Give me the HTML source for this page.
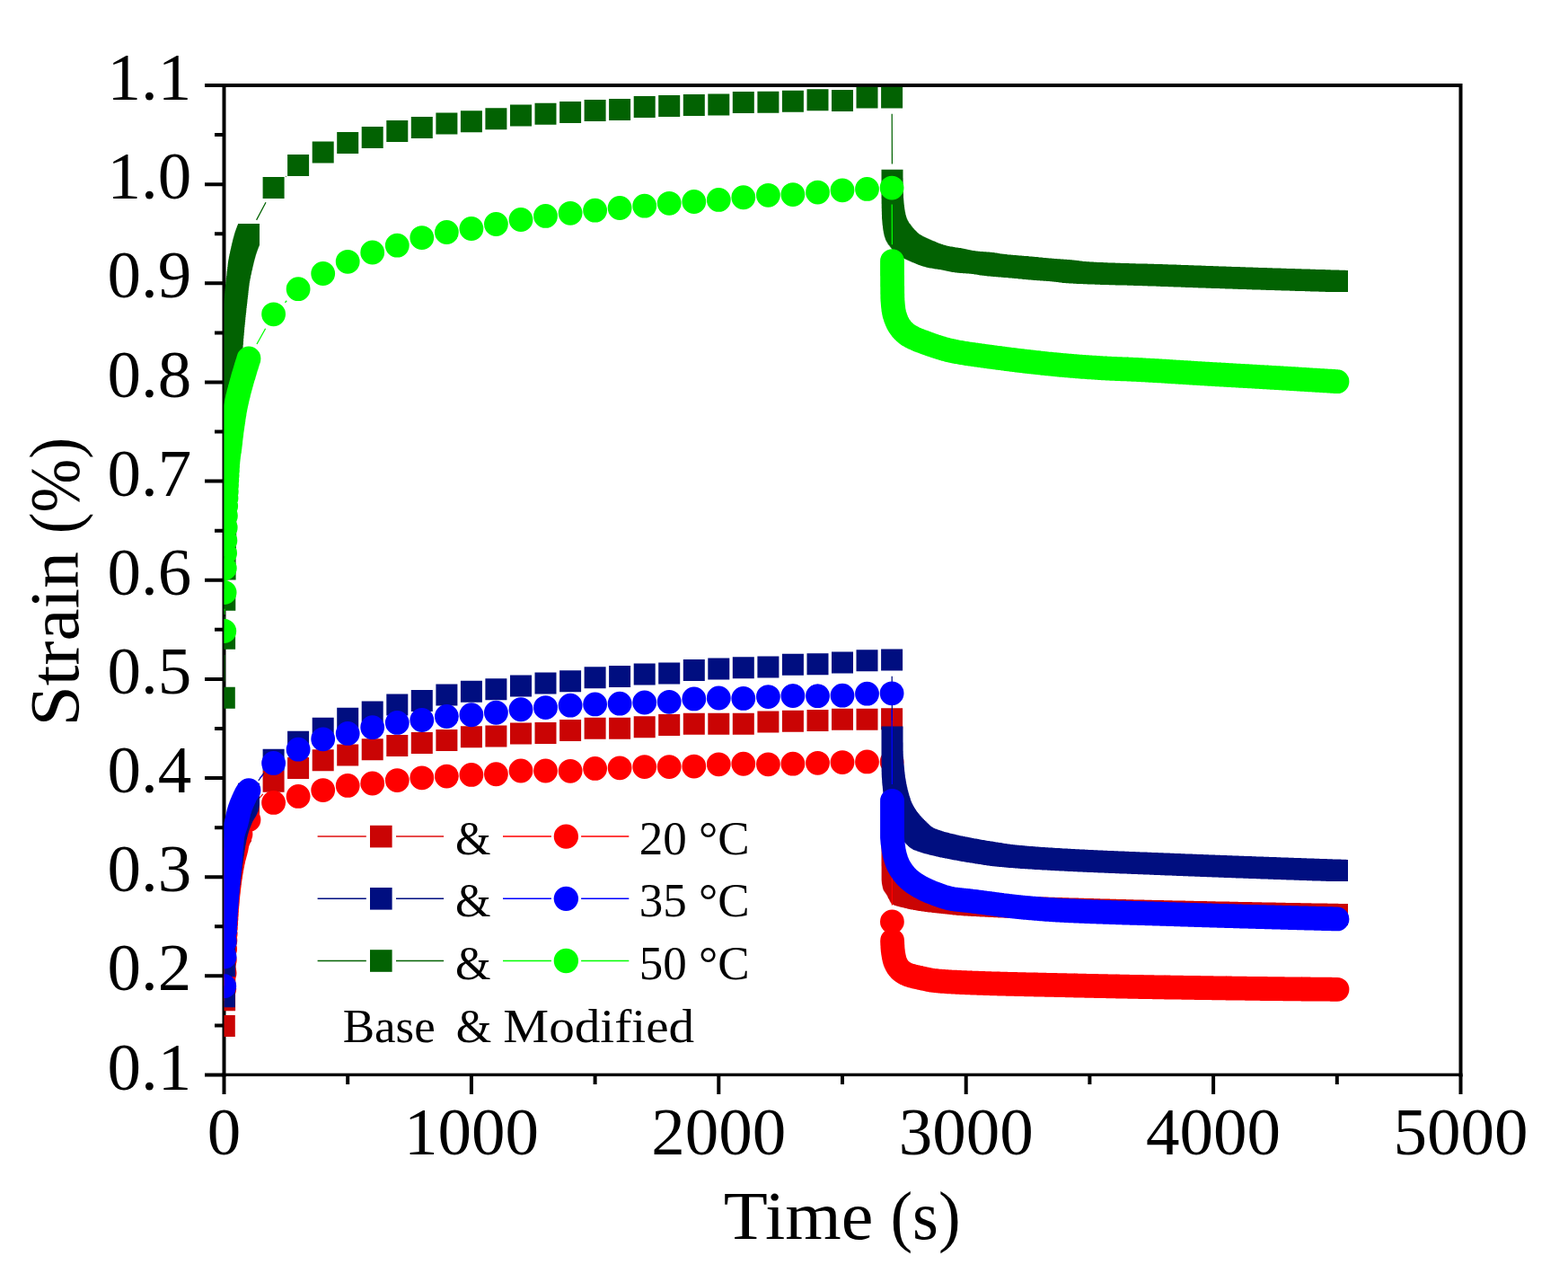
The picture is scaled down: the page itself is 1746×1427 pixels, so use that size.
<!DOCTYPE html>
<html><head><meta charset="utf-8"><title>Strain vs Time</title>
<style>html,body{margin:0;padding:0;background:#fff;}svg{display:block;}</style>
</head><body>
<svg width="1746" height="1427" viewBox="0 0 1746 1427">
<defs><clipPath id="pa"><rect x="249.5" y="96.5" width="1377.0" height="1100.0"/></clipPath></defs>
<rect width="1746" height="1427" fill="#fff"/>
<path d="M249.5 1196.5V95.0H1626.5V1196.5" fill="none" stroke="#000" stroke-width="4" stroke-linecap="square"/>
<rect x="247.5" y="1194.65" width="1381.0" height="3.4" fill="#000"/>
<path d="M228 1196.50H249.5M228 1086.35H249.5M228 976.20H249.5M228 866.05H249.5M228 755.90H249.5M228 645.75H249.5M228 535.60H249.5M228 425.45H249.5M228 315.30H249.5M228 205.15H249.5M228 95.00H249.5M239 1141.43H249.5M239 1031.28H249.5M239 921.13H249.5M239 810.98H249.5M239 700.83H249.5M239 590.68H249.5M239 480.52H249.5M239 370.38H249.5M239 260.23H249.5M239 150.08H249.5M249.50 1196.5V1218M524.90 1196.5V1218M800.30 1196.5V1218M1075.70 1196.5V1218M1351.10 1196.5V1218M1626.50 1196.5V1218M387.20 1196.5V1207M662.60 1196.5V1207M938.00 1196.5V1207M1213.40 1196.5V1207M1488.80 1196.5V1207" fill="none" stroke="#000" stroke-width="4"/>
<g clip-path="url(#pa)">
<path d="M288.8 888.4L292.8 883.8M993.2 818.5L993.4 890.7" fill="none" stroke="#e01010" stroke-width="1.25"/>
<path d="M237.8 1130.1h24v24h-24zM238.1 1101.3h24v24h-24zM238.3 1076.4h24v24h-24zM238.6 1057.8h24v24h-24zM238.9 1045.0h24v24h-24zM239.2 1035.0h24v24h-24zM239.4 1026.6h24v24h-24zM239.7 1019.3h24v24h-24zM240.0 1012.8h24v24h-24zM240.3 1007.0h24v24h-24zM240.5 1001.8h24v24h-24zM240.8 997.1h24v24h-24zM241.1 992.8h24v24h-24zM241.4 988.8h24v24h-24zM241.6 985.1h24v24h-24zM241.9 981.7h24v24h-24zM242.2 978.6h24v24h-24zM242.5 975.6h24v24h-24zM242.7 972.8h24v24h-24zM243.0 970.2h24v24h-24zM243.3 967.7h24v24h-24zM243.6 965.3h24v24h-24zM243.8 963.0h24v24h-24zM244.1 960.8h24v24h-24zM244.4 958.7h24v24h-24zM244.7 956.7h24v24h-24zM244.9 954.7h24v24h-24zM245.2 952.8h24v24h-24zM245.5 951.0h24v24h-24zM245.8 949.2h24v24h-24zM246.0 947.5h24v24h-24zM246.3 945.9h24v24h-24zM246.6 944.3h24v24h-24zM246.9 942.7h24v24h-24zM247.1 941.2h24v24h-24zM247.4 939.8h24v24h-24zM247.7 938.4h24v24h-24zM248.0 937.0h24v24h-24zM248.2 935.7h24v24h-24zM248.5 934.5h24v24h-24zM248.8 933.2h24v24h-24zM249.1 932.0h24v24h-24zM249.3 930.8h24v24h-24zM249.6 929.6h24v24h-24zM249.9 928.4h24v24h-24zM250.2 927.3h24v24h-24zM250.4 926.2h24v24h-24zM250.7 925.2h24v24h-24zM251.0 924.2h24v24h-24zM251.3 923.2h24v24h-24zM251.5 922.3h24v24h-24zM251.8 921.4h24v24h-24zM252.1 920.6h24v24h-24zM252.4 919.8h24v24h-24zM252.6 919.0h24v24h-24zM252.9 918.3h24v24h-24zM253.2 917.7h24v24h-24zM253.5 917.0h24v24h-24zM253.7 916.4h24v24h-24zM254.0 915.9h24v24h-24zM254.3 915.3h24v24h-24zM254.6 914.8h24v24h-24zM254.9 914.3h24v24h-24zM255.1 913.8h24v24h-24zM255.4 913.3h24v24h-24zM255.7 912.9h24v24h-24zM256.0 912.4h24v24h-24zM265.0 890.4h24v24h-24zM292.6 857.8h24v24h-24zM320.1 843.1h24v24h-24zM347.7 834.2h24v24h-24zM375.2 828.5h24v24h-24zM402.7 822.2h24v24h-24zM430.3 818.0h24v24h-24zM457.8 814.9h24v24h-24zM485.4 811.9h24v24h-24zM512.9 808.3h24v24h-24zM540.4 807.5h24v24h-24zM568.0 804.4h24v24h-24zM595.5 803.9h24v24h-24zM623.1 801.0h24v24h-24zM650.6 798.8h24v24h-24zM678.1 798.8h24v24h-24zM705.7 797.2h24v24h-24zM733.2 794.9h24v24h-24zM760.8 793.8h24v24h-24zM788.3 793.8h24v24h-24zM815.8 793.8h24v24h-24zM843.4 791.5h24v24h-24zM870.9 790.8h24v24h-24zM898.5 789.9h24v24h-24zM926.0 788.7h24v24h-24zM953.5 788.7h24v24h-24zM981.1 788.2h24v24h-24zM981.5 897.0h24v24h-24zM981.5 898.2h24v24h-24zM981.5 899.4h24v24h-24zM981.5 900.6h24v24h-24zM981.5 901.8h24v24h-24zM981.5 903.0h24v24h-24zM981.5 904.3h24v24h-24zM981.5 905.5h24v24h-24zM981.5 906.7h24v24h-24zM981.5 907.9h24v24h-24zM981.5 909.1h24v24h-24zM981.5 910.3h24v24h-24zM981.5 911.5h24v24h-24zM981.5 912.7h24v24h-24zM981.5 913.9h24v24h-24zM981.5 915.1h24v24h-24zM981.5 916.3h24v24h-24zM981.5 917.5h24v24h-24zM981.5 918.7h24v24h-24zM981.5 919.9h24v24h-24zM981.5 921.1h24v24h-24zM981.5 922.3h24v24h-24zM981.5 923.5h24v24h-24zM981.5 924.7h24v24h-24zM981.5 925.9h24v24h-24zM981.5 927.1h24v24h-24zM981.5 928.3h24v24h-24zM981.5 929.5h24v24h-24zM981.5 930.7h24v24h-24zM981.5 931.9h24v24h-24zM981.5 933.1h24v24h-24zM981.5 934.3h24v24h-24zM981.5 935.5h24v24h-24zM981.5 936.7h24v24h-24zM981.5 937.9h24v24h-24zM981.5 939.1h24v24h-24zM981.5 940.3h24v24h-24zM981.6 941.5h24v24h-24zM981.6 942.7h24v24h-24zM981.6 943.9h24v24h-24zM981.6 945.1h24v24h-24zM981.6 946.2h24v24h-24zM981.6 947.4h24v24h-24zM981.6 948.6h24v24h-24zM981.6 949.8h24v24h-24zM981.6 951.0h24v24h-24zM981.6 952.2h24v24h-24zM981.6 953.4h24v24h-24zM981.6 954.6h24v24h-24zM981.6 955.8h24v24h-24zM981.7 957.0h24v24h-24zM981.8 958.2h24v24h-24zM981.9 959.4h24v24h-24zM982.1 960.6h24v24h-24zM982.3 961.8h24v24h-24zM982.6 963.0h24v24h-24zM982.8 964.2h24v24h-24zM983.1 965.3h24v24h-24zM983.4 966.4h24v24h-24zM983.9 967.4h24v24h-24zM984.5 968.5h24v24h-24zM985.2 969.5h24v24h-24zM985.9 970.5h24v24h-24zM986.6 971.6h24v24h-24zM987.2 972.6h24v24h-24zM987.9 973.6h24v24h-24zM988.4 974.7h24v24h-24zM989.0 975.9h24v24h-24zM989.6 977.1h24v24h-24zM990.2 978.3h24v24h-24zM990.8 979.4h24v24h-24zM991.4 980.4h24v24h-24zM992.1 981.4h24v24h-24zM992.8 982.1h24v24h-24zM993.6 982.8h24v24h-24zM994.5 983.3h24v24h-24zM995.5 983.7h24v24h-24zM996.5 984.1h24v24h-24zM997.7 984.5h24v24h-24zM998.9 984.8h24v24h-24zM1000.1 985.1h24v24h-24zM1001.4 985.4h24v24h-24zM1002.6 985.7h24v24h-24zM1003.9 986.0h24v24h-24zM1005.1 986.3h24v24h-24zM1006.2 986.6h24v24h-24zM1007.4 986.9h24v24h-24zM1008.6 987.1h24v24h-24zM1009.7 987.4h24v24h-24zM1010.9 987.7h24v24h-24zM1012.1 987.9h24v24h-24zM1013.3 988.2h24v24h-24zM1014.4 988.4h24v24h-24zM1015.6 988.6h24v24h-24zM1016.8 988.9h24v24h-24zM1018.0 989.1h24v24h-24zM1019.2 989.3h24v24h-24zM1020.3 989.5h24v24h-24zM1021.5 989.7h24v24h-24zM1022.7 989.9h24v24h-24zM1023.9 990.1h24v24h-24zM1025.1 990.3h24v24h-24zM1026.3 990.4h24v24h-24zM1027.5 990.6h24v24h-24zM1028.6 990.7h24v24h-24zM1029.8 990.9h24v24h-24zM1031.0 991.1h24v24h-24zM1032.2 991.2h24v24h-24zM1033.4 991.4h24v24h-24zM1034.6 991.5h24v24h-24zM1035.8 991.6h24v24h-24zM1037.0 991.8h24v24h-24zM1038.2 991.9h24v24h-24zM1039.4 992.0h24v24h-24zM1040.6 992.2h24v24h-24zM1041.8 992.3h24v24h-24zM1042.9 992.4h24v24h-24zM1044.1 992.6h24v24h-24zM1045.3 992.7h24v24h-24zM1046.5 992.8h24v24h-24zM1047.7 992.9h24v24h-24zM1048.9 993.1h24v24h-24zM1050.1 993.2h24v24h-24zM1051.3 993.3h24v24h-24zM1052.5 993.4h24v24h-24zM1053.7 993.6h24v24h-24zM1054.9 993.7h24v24h-24zM1056.1 993.8h24v24h-24zM1057.3 994.0h24v24h-24zM1058.5 994.1h24v24h-24zM1059.7 994.2h24v24h-24zM1060.9 994.4h24v24h-24zM1062.0 994.5h24v24h-24zM1063.2 994.6h24v24h-24zM1064.4 994.7h24v24h-24zM1065.6 994.9h24v24h-24zM1066.8 995.0h24v24h-24zM1068.0 995.1h24v24h-24zM1069.2 995.1h24v24h-24zM1070.4 995.2h24v24h-24zM1071.6 995.3h24v24h-24zM1072.8 995.4h24v24h-24zM1074.0 995.4h24v24h-24zM1075.2 995.5h24v24h-24zM1076.4 995.6h24v24h-24zM1077.6 995.7h24v24h-24zM1078.8 995.7h24v24h-24zM1080.0 995.8h24v24h-24zM1081.2 995.9h24v24h-24zM1082.4 995.9h24v24h-24zM1083.6 996.0h24v24h-24zM1084.8 996.1h24v24h-24zM1086.0 996.1h24v24h-24zM1087.2 996.2h24v24h-24zM1088.4 996.3h24v24h-24zM1089.6 996.3h24v24h-24zM1090.8 996.4h24v24h-24zM1092.0 996.5h24v24h-24zM1093.1 996.5h24v24h-24zM1094.3 996.6h24v24h-24zM1095.5 996.6h24v24h-24zM1096.7 996.7h24v24h-24zM1097.9 996.8h24v24h-24zM1099.1 996.8h24v24h-24zM1100.3 996.9h24v24h-24zM1101.5 996.9h24v24h-24zM1102.7 997.0h24v24h-24zM1103.9 997.0h24v24h-24zM1105.1 997.1h24v24h-24zM1106.3 997.2h24v24h-24zM1107.5 997.2h24v24h-24zM1108.7 997.3h24v24h-24zM1109.9 997.3h24v24h-24zM1111.1 997.4h24v24h-24zM1112.3 997.4h24v24h-24zM1113.5 997.5h24v24h-24zM1114.7 997.5h24v24h-24zM1115.9 997.6h24v24h-24zM1117.1 997.6h24v24h-24zM1118.3 997.7h24v24h-24zM1119.5 997.7h24v24h-24zM1120.7 997.8h24v24h-24zM1121.9 997.8h24v24h-24zM1123.1 997.9h24v24h-24zM1124.3 997.9h24v24h-24zM1125.5 998.0h24v24h-24zM1126.7 998.0h24v24h-24zM1127.9 998.1h24v24h-24zM1129.1 998.1h24v24h-24zM1130.3 998.1h24v24h-24zM1131.5 998.2h24v24h-24zM1132.7 998.2h24v24h-24zM1133.9 998.3h24v24h-24zM1135.1 998.3h24v24h-24zM1136.3 998.4h24v24h-24zM1137.5 998.4h24v24h-24zM1138.7 998.4h24v24h-24zM1139.9 998.5h24v24h-24zM1141.1 998.5h24v24h-24zM1142.3 998.6h24v24h-24zM1143.5 998.6h24v24h-24zM1144.7 998.7h24v24h-24zM1145.9 998.7h24v24h-24zM1147.1 998.7h24v24h-24zM1148.3 998.8h24v24h-24zM1149.5 998.8h24v24h-24zM1150.7 998.8h24v24h-24zM1151.9 998.9h24v24h-24zM1153.1 998.9h24v24h-24zM1154.3 999.0h24v24h-24zM1155.5 999.0h24v24h-24zM1156.7 999.0h24v24h-24zM1157.9 999.1h24v24h-24zM1159.1 999.1h24v24h-24zM1160.3 999.2h24v24h-24zM1161.5 999.2h24v24h-24zM1162.7 999.2h24v24h-24zM1163.9 999.3h24v24h-24zM1165.1 999.3h24v24h-24zM1166.3 999.3h24v24h-24zM1167.5 999.4h24v24h-24zM1168.7 999.4h24v24h-24zM1169.9 999.4h24v24h-24zM1171.1 999.5h24v24h-24zM1172.3 999.5h24v24h-24zM1173.5 999.5h24v24h-24zM1174.7 999.6h24v24h-24zM1175.9 999.6h24v24h-24zM1177.1 999.6h24v24h-24zM1178.3 999.7h24v24h-24zM1179.5 999.7h24v24h-24zM1180.7 999.8h24v24h-24zM1181.9 999.8h24v24h-24zM1183.1 999.8h24v24h-24zM1184.3 999.9h24v24h-24zM1185.5 999.9h24v24h-24zM1186.7 999.9h24v24h-24zM1187.9 1000.0h24v24h-24zM1189.1 1000.0h24v24h-24zM1190.3 1000.0h24v24h-24zM1191.5 1000.1h24v24h-24zM1192.7 1000.1h24v24h-24zM1193.9 1000.1h24v24h-24zM1195.1 1000.2h24v24h-24zM1196.3 1000.2h24v24h-24zM1197.5 1000.2h24v24h-24zM1198.7 1000.3h24v24h-24zM1199.9 1000.3h24v24h-24zM1201.1 1000.3h24v24h-24zM1202.3 1000.4h24v24h-24zM1203.5 1000.4h24v24h-24zM1204.7 1000.4h24v24h-24zM1205.9 1000.5h24v24h-24zM1207.1 1000.5h24v24h-24zM1208.3 1000.5h24v24h-24zM1209.5 1000.6h24v24h-24zM1210.7 1000.6h24v24h-24zM1211.9 1000.6h24v24h-24zM1213.1 1000.7h24v24h-24zM1214.3 1000.7h24v24h-24zM1215.5 1000.7h24v24h-24zM1216.7 1000.8h24v24h-24zM1217.9 1000.8h24v24h-24zM1219.1 1000.8h24v24h-24zM1220.3 1000.9h24v24h-24zM1221.5 1000.9h24v24h-24zM1222.7 1000.9h24v24h-24zM1223.9 1001.0h24v24h-24zM1225.1 1001.0h24v24h-24zM1226.3 1001.0h24v24h-24zM1227.5 1001.1h24v24h-24zM1228.7 1001.1h24v24h-24zM1229.9 1001.1h24v24h-24zM1231.1 1001.2h24v24h-24zM1232.3 1001.2h24v24h-24zM1233.5 1001.2h24v24h-24zM1234.7 1001.2h24v24h-24zM1235.9 1001.3h24v24h-24zM1237.1 1001.3h24v24h-24zM1238.3 1001.3h24v24h-24zM1239.5 1001.4h24v24h-24zM1240.7 1001.4h24v24h-24zM1241.9 1001.4h24v24h-24zM1243.1 1001.5h24v24h-24zM1244.3 1001.5h24v24h-24zM1245.5 1001.5h24v24h-24zM1246.7 1001.5h24v24h-24zM1247.9 1001.6h24v24h-24zM1249.1 1001.6h24v24h-24zM1250.3 1001.6h24v24h-24zM1251.5 1001.7h24v24h-24zM1252.7 1001.7h24v24h-24zM1253.9 1001.7h24v24h-24zM1255.1 1001.7h24v24h-24zM1256.3 1001.8h24v24h-24zM1257.5 1001.8h24v24h-24zM1258.7 1001.8h24v24h-24zM1259.9 1001.9h24v24h-24zM1261.1 1001.9h24v24h-24zM1262.3 1001.9h24v24h-24zM1263.5 1001.9h24v24h-24zM1264.7 1002.0h24v24h-24zM1265.9 1002.0h24v24h-24zM1267.1 1002.0h24v24h-24zM1268.3 1002.0h24v24h-24zM1269.5 1002.1h24v24h-24zM1270.7 1002.1h24v24h-24zM1271.9 1002.1h24v24h-24zM1273.1 1002.2h24v24h-24zM1274.3 1002.2h24v24h-24zM1275.5 1002.2h24v24h-24zM1276.7 1002.2h24v24h-24zM1277.9 1002.3h24v24h-24zM1279.1 1002.3h24v24h-24zM1280.3 1002.3h24v24h-24zM1281.5 1002.3h24v24h-24zM1282.7 1002.4h24v24h-24zM1283.9 1002.4h24v24h-24zM1285.1 1002.4h24v24h-24zM1286.3 1002.4h24v24h-24zM1287.5 1002.5h24v24h-24zM1288.7 1002.5h24v24h-24zM1289.9 1002.5h24v24h-24zM1291.1 1002.5h24v24h-24zM1292.3 1002.6h24v24h-24zM1293.5 1002.6h24v24h-24zM1294.7 1002.6h24v24h-24zM1295.9 1002.6h24v24h-24zM1297.1 1002.7h24v24h-24zM1298.3 1002.7h24v24h-24zM1299.5 1002.7h24v24h-24zM1300.7 1002.7h24v24h-24zM1301.9 1002.8h24v24h-24zM1303.1 1002.8h24v24h-24zM1304.3 1002.8h24v24h-24zM1305.5 1002.8h24v24h-24zM1306.7 1002.9h24v24h-24zM1307.9 1002.9h24v24h-24zM1309.1 1002.9h24v24h-24zM1310.3 1002.9h24v24h-24zM1311.5 1003.0h24v24h-24zM1312.7 1003.0h24v24h-24zM1313.9 1003.0h24v24h-24zM1315.1 1003.0h24v24h-24zM1316.3 1003.1h24v24h-24zM1317.5 1003.1h24v24h-24zM1318.7 1003.1h24v24h-24zM1319.9 1003.1h24v24h-24zM1321.1 1003.2h24v24h-24zM1322.3 1003.2h24v24h-24zM1323.5 1003.2h24v24h-24zM1324.7 1003.2h24v24h-24zM1325.9 1003.3h24v24h-24zM1327.1 1003.3h24v24h-24zM1328.3 1003.3h24v24h-24zM1329.5 1003.3h24v24h-24zM1330.7 1003.4h24v24h-24zM1331.9 1003.4h24v24h-24zM1333.1 1003.4h24v24h-24zM1334.3 1003.4h24v24h-24zM1335.5 1003.4h24v24h-24zM1336.7 1003.5h24v24h-24zM1337.9 1003.5h24v24h-24zM1339.1 1003.5h24v24h-24zM1340.3 1003.5h24v24h-24zM1341.5 1003.6h24v24h-24zM1342.7 1003.6h24v24h-24zM1343.9 1003.6h24v24h-24zM1345.1 1003.6h24v24h-24zM1346.3 1003.7h24v24h-24zM1347.5 1003.7h24v24h-24zM1348.7 1003.7h24v24h-24zM1349.9 1003.7h24v24h-24zM1351.1 1003.8h24v24h-24zM1352.3 1003.8h24v24h-24zM1353.5 1003.8h24v24h-24zM1354.7 1003.8h24v24h-24zM1355.9 1003.9h24v24h-24zM1357.1 1003.9h24v24h-24zM1358.3 1003.9h24v24h-24zM1359.5 1003.9h24v24h-24zM1360.7 1004.0h24v24h-24zM1361.9 1004.0h24v24h-24zM1363.1 1004.0h24v24h-24zM1364.3 1004.0h24v24h-24zM1365.5 1004.0h24v24h-24zM1366.7 1004.1h24v24h-24zM1367.9 1004.1h24v24h-24zM1369.1 1004.1h24v24h-24zM1370.3 1004.1h24v24h-24zM1371.5 1004.2h24v24h-24zM1372.7 1004.2h24v24h-24zM1373.9 1004.2h24v24h-24zM1375.1 1004.2h24v24h-24zM1376.3 1004.3h24v24h-24zM1377.5 1004.3h24v24h-24zM1378.7 1004.3h24v24h-24zM1379.9 1004.3h24v24h-24zM1381.1 1004.3h24v24h-24zM1382.3 1004.4h24v24h-24zM1383.5 1004.4h24v24h-24zM1384.7 1004.4h24v24h-24zM1385.9 1004.4h24v24h-24zM1387.1 1004.5h24v24h-24zM1388.3 1004.5h24v24h-24zM1389.5 1004.5h24v24h-24zM1390.7 1004.5h24v24h-24zM1391.9 1004.5h24v24h-24zM1393.1 1004.6h24v24h-24zM1394.3 1004.6h24v24h-24zM1395.5 1004.6h24v24h-24zM1396.7 1004.6h24v24h-24zM1397.9 1004.7h24v24h-24zM1399.1 1004.7h24v24h-24zM1400.3 1004.7h24v24h-24zM1401.5 1004.7h24v24h-24zM1402.7 1004.7h24v24h-24zM1403.9 1004.8h24v24h-24zM1405.1 1004.8h24v24h-24zM1406.3 1004.8h24v24h-24zM1407.5 1004.8h24v24h-24zM1408.7 1004.9h24v24h-24zM1409.9 1004.9h24v24h-24zM1411.1 1004.9h24v24h-24zM1412.3 1004.9h24v24h-24zM1413.5 1004.9h24v24h-24zM1414.7 1005.0h24v24h-24zM1415.9 1005.0h24v24h-24zM1417.1 1005.0h24v24h-24zM1418.3 1005.0h24v24h-24zM1419.5 1005.0h24v24h-24zM1420.7 1005.1h24v24h-24zM1421.9 1005.1h24v24h-24zM1423.1 1005.1h24v24h-24zM1424.3 1005.1h24v24h-24zM1425.5 1005.2h24v24h-24zM1426.7 1005.2h24v24h-24zM1427.9 1005.2h24v24h-24zM1429.1 1005.2h24v24h-24zM1430.3 1005.2h24v24h-24zM1431.5 1005.3h24v24h-24zM1432.7 1005.3h24v24h-24zM1433.9 1005.3h24v24h-24zM1435.1 1005.3h24v24h-24zM1436.3 1005.3h24v24h-24zM1437.5 1005.4h24v24h-24zM1438.7 1005.4h24v24h-24zM1439.9 1005.4h24v24h-24zM1441.1 1005.4h24v24h-24zM1442.3 1005.4h24v24h-24zM1443.5 1005.5h24v24h-24zM1444.7 1005.5h24v24h-24zM1445.9 1005.5h24v24h-24zM1447.1 1005.5h24v24h-24zM1448.3 1005.5h24v24h-24zM1449.5 1005.6h24v24h-24zM1450.7 1005.6h24v24h-24zM1451.9 1005.6h24v24h-24zM1453.1 1005.6h24v24h-24zM1454.3 1005.6h24v24h-24zM1455.5 1005.7h24v24h-24zM1456.7 1005.7h24v24h-24zM1457.9 1005.7h24v24h-24zM1459.1 1005.7h24v24h-24zM1460.3 1005.7h24v24h-24zM1461.5 1005.8h24v24h-24zM1462.7 1005.8h24v24h-24zM1463.9 1005.8h24v24h-24zM1465.1 1005.8h24v24h-24zM1466.3 1005.8h24v24h-24zM1467.5 1005.9h24v24h-24zM1468.7 1005.9h24v24h-24zM1469.9 1005.9h24v24h-24zM1471.1 1005.9h24v24h-24zM1472.3 1005.9h24v24h-24zM1473.5 1005.9h24v24h-24zM1474.7 1006.0h24v24h-24zM1475.9 1006.0h24v24h-24zM1477.0 1006.0h24v24h-24z" fill="#ca0404"/>
<path d="M993.1 866.2L993.4 1007.6" fill="none" stroke="#ff0000" stroke-width="1.25"/>
<path d="M291.2 893.4a13.4 13.4 0 1 0 26.8 0a13.4 13.4 0 1 0 -26.8 0zM318.7 886.4a13.4 13.4 0 1 0 26.8 0a13.4 13.4 0 1 0 -26.8 0zM346.3 879.6a13.4 13.4 0 1 0 26.8 0a13.4 13.4 0 1 0 -26.8 0zM373.8 874.4a13.4 13.4 0 1 0 26.8 0a13.4 13.4 0 1 0 -26.8 0zM401.3 872.0a13.4 13.4 0 1 0 26.8 0a13.4 13.4 0 1 0 -26.8 0zM428.9 868.6a13.4 13.4 0 1 0 26.8 0a13.4 13.4 0 1 0 -26.8 0zM456.4 865.8a13.4 13.4 0 1 0 26.8 0a13.4 13.4 0 1 0 -26.8 0zM484.0 864.1a13.4 13.4 0 1 0 26.8 0a13.4 13.4 0 1 0 -26.8 0zM511.5 862.4a13.4 13.4 0 1 0 26.8 0a13.4 13.4 0 1 0 -26.8 0zM539.0 861.8a13.4 13.4 0 1 0 26.8 0a13.4 13.4 0 1 0 -26.8 0zM566.6 858.0a13.4 13.4 0 1 0 26.8 0a13.4 13.4 0 1 0 -26.8 0zM594.1 858.0a13.4 13.4 0 1 0 26.8 0a13.4 13.4 0 1 0 -26.8 0zM621.7 858.3a13.4 13.4 0 1 0 26.8 0a13.4 13.4 0 1 0 -26.8 0zM649.2 855.4a13.4 13.4 0 1 0 26.8 0a13.4 13.4 0 1 0 -26.8 0zM676.7 854.8a13.4 13.4 0 1 0 26.8 0a13.4 13.4 0 1 0 -26.8 0zM704.3 853.6a13.4 13.4 0 1 0 26.8 0a13.4 13.4 0 1 0 -26.8 0zM731.8 853.6a13.4 13.4 0 1 0 26.8 0a13.4 13.4 0 1 0 -26.8 0zM759.4 853.1a13.4 13.4 0 1 0 26.8 0a13.4 13.4 0 1 0 -26.8 0zM786.9 850.8a13.4 13.4 0 1 0 26.8 0a13.4 13.4 0 1 0 -26.8 0zM814.4 850.2a13.4 13.4 0 1 0 26.8 0a13.4 13.4 0 1 0 -26.8 0zM842.0 850.8a13.4 13.4 0 1 0 26.8 0a13.4 13.4 0 1 0 -26.8 0zM869.5 850.2a13.4 13.4 0 1 0 26.8 0a13.4 13.4 0 1 0 -26.8 0zM897.1 849.3a13.4 13.4 0 1 0 26.8 0a13.4 13.4 0 1 0 -26.8 0zM924.6 848.6a13.4 13.4 0 1 0 26.8 0a13.4 13.4 0 1 0 -26.8 0zM952.1 847.9a13.4 13.4 0 1 0 26.8 0a13.4 13.4 0 1 0 -26.8 0zM979.7 847.9a13.4 13.4 0 1 0 26.8 0a13.4 13.4 0 1 0 -26.8 0zM980.0 1025.9a13.4 13.4 0 1 0 26.8 0a13.4 13.4 0 1 0 -26.8 0z" fill="#ff0000"/>
<path d="M236.4 1100.7a13.4 13.4 0 1 0 26.8 0a13.4 13.4 0 1 0 -26.8 0zM236.7 1083.0a13.4 13.4 0 1 0 26.8 0a13.4 13.4 0 1 0 -26.8 0zM236.9 1068.7a13.4 13.4 0 1 0 26.8 0a13.4 13.4 0 1 0 -26.8 0zM237.2 1056.5a13.4 13.4 0 1 0 26.8 0a13.4 13.4 0 1 0 -26.8 0zM237.5 1046.7a13.4 13.4 0 1 0 26.8 0a13.4 13.4 0 1 0 -26.8 0zM237.8 1039.1a13.4 13.4 0 1 0 26.8 0a13.4 13.4 0 1 0 -26.8 0zM238.0 1032.8a13.4 13.4 0 1 0 26.8 0a13.4 13.4 0 1 0 -26.8 0zM238.3 1027.4a13.4 13.4 0 1 0 26.8 0a13.4 13.4 0 1 0 -26.8 0zM238.6 1022.5a13.4 13.4 0 1 0 26.8 0a13.4 13.4 0 1 0 -26.8 0zM238.9 1018.1a13.4 13.4 0 1 0 26.8 0a13.4 13.4 0 1 0 -26.8 0zM239.1 1013.9a13.4 13.4 0 1 0 26.8 0a13.4 13.4 0 1 0 -26.8 0zM239.4 1010.2a13.4 13.4 0 1 0 26.8 0a13.4 13.4 0 1 0 -26.8 0zM239.7 1006.6a13.4 13.4 0 1 0 26.8 0a13.4 13.4 0 1 0 -26.8 0zM240.0 1003.4a13.4 13.4 0 1 0 26.8 0a13.4 13.4 0 1 0 -26.8 0zM240.2 1000.3a13.4 13.4 0 1 0 26.8 0a13.4 13.4 0 1 0 -26.8 0zM240.5 997.4a13.4 13.4 0 1 0 26.8 0a13.4 13.4 0 1 0 -26.8 0zM240.8 994.6a13.4 13.4 0 1 0 26.8 0a13.4 13.4 0 1 0 -26.8 0zM241.1 992.0a13.4 13.4 0 1 0 26.8 0a13.4 13.4 0 1 0 -26.8 0zM241.3 989.6a13.4 13.4 0 1 0 26.8 0a13.4 13.4 0 1 0 -26.8 0zM241.6 987.2a13.4 13.4 0 1 0 26.8 0a13.4 13.4 0 1 0 -26.8 0zM241.9 985.0a13.4 13.4 0 1 0 26.8 0a13.4 13.4 0 1 0 -26.8 0zM242.2 982.8a13.4 13.4 0 1 0 26.8 0a13.4 13.4 0 1 0 -26.8 0zM242.4 980.7a13.4 13.4 0 1 0 26.8 0a13.4 13.4 0 1 0 -26.8 0zM242.7 978.7a13.4 13.4 0 1 0 26.8 0a13.4 13.4 0 1 0 -26.8 0zM243.0 976.8a13.4 13.4 0 1 0 26.8 0a13.4 13.4 0 1 0 -26.8 0zM243.3 974.9a13.4 13.4 0 1 0 26.8 0a13.4 13.4 0 1 0 -26.8 0zM243.5 973.1a13.4 13.4 0 1 0 26.8 0a13.4 13.4 0 1 0 -26.8 0zM243.8 971.3a13.4 13.4 0 1 0 26.8 0a13.4 13.4 0 1 0 -26.8 0zM244.1 969.7a13.4 13.4 0 1 0 26.8 0a13.4 13.4 0 1 0 -26.8 0zM244.4 968.0a13.4 13.4 0 1 0 26.8 0a13.4 13.4 0 1 0 -26.8 0zM244.6 966.5a13.4 13.4 0 1 0 26.8 0a13.4 13.4 0 1 0 -26.8 0zM244.9 964.9a13.4 13.4 0 1 0 26.8 0a13.4 13.4 0 1 0 -26.8 0zM245.2 963.5a13.4 13.4 0 1 0 26.8 0a13.4 13.4 0 1 0 -26.8 0zM245.5 962.0a13.4 13.4 0 1 0 26.8 0a13.4 13.4 0 1 0 -26.8 0zM245.7 960.7a13.4 13.4 0 1 0 26.8 0a13.4 13.4 0 1 0 -26.8 0zM246.0 959.3a13.4 13.4 0 1 0 26.8 0a13.4 13.4 0 1 0 -26.8 0zM246.3 958.0a13.4 13.4 0 1 0 26.8 0a13.4 13.4 0 1 0 -26.8 0zM246.6 956.8a13.4 13.4 0 1 0 26.8 0a13.4 13.4 0 1 0 -26.8 0zM246.8 955.6a13.4 13.4 0 1 0 26.8 0a13.4 13.4 0 1 0 -26.8 0zM247.1 954.5a13.4 13.4 0 1 0 26.8 0a13.4 13.4 0 1 0 -26.8 0zM247.4 953.5a13.4 13.4 0 1 0 26.8 0a13.4 13.4 0 1 0 -26.8 0zM247.7 952.4a13.4 13.4 0 1 0 26.8 0a13.4 13.4 0 1 0 -26.8 0zM247.9 951.4a13.4 13.4 0 1 0 26.8 0a13.4 13.4 0 1 0 -26.8 0zM248.2 950.4a13.4 13.4 0 1 0 26.8 0a13.4 13.4 0 1 0 -26.8 0zM248.5 949.3a13.4 13.4 0 1 0 26.8 0a13.4 13.4 0 1 0 -26.8 0zM248.8 948.3a13.4 13.4 0 1 0 26.8 0a13.4 13.4 0 1 0 -26.8 0zM249.0 947.2a13.4 13.4 0 1 0 26.8 0a13.4 13.4 0 1 0 -26.8 0zM249.3 946.1a13.4 13.4 0 1 0 26.8 0a13.4 13.4 0 1 0 -26.8 0zM249.6 945.0a13.4 13.4 0 1 0 26.8 0a13.4 13.4 0 1 0 -26.8 0zM249.9 943.8a13.4 13.4 0 1 0 26.8 0a13.4 13.4 0 1 0 -26.8 0zM250.1 942.4a13.4 13.4 0 1 0 26.8 0a13.4 13.4 0 1 0 -26.8 0zM250.4 940.8a13.4 13.4 0 1 0 26.8 0a13.4 13.4 0 1 0 -26.8 0zM250.7 939.1a13.4 13.4 0 1 0 26.8 0a13.4 13.4 0 1 0 -26.8 0zM251.0 937.3a13.4 13.4 0 1 0 26.8 0a13.4 13.4 0 1 0 -26.8 0zM251.2 935.6a13.4 13.4 0 1 0 26.8 0a13.4 13.4 0 1 0 -26.8 0zM251.5 934.0a13.4 13.4 0 1 0 26.8 0a13.4 13.4 0 1 0 -26.8 0zM251.8 932.6a13.4 13.4 0 1 0 26.8 0a13.4 13.4 0 1 0 -26.8 0zM252.1 931.4a13.4 13.4 0 1 0 26.8 0a13.4 13.4 0 1 0 -26.8 0zM252.3 930.6a13.4 13.4 0 1 0 26.8 0a13.4 13.4 0 1 0 -26.8 0zM252.6 930.0a13.4 13.4 0 1 0 26.8 0a13.4 13.4 0 1 0 -26.8 0zM252.9 929.7a13.4 13.4 0 1 0 26.8 0a13.4 13.4 0 1 0 -26.8 0zM253.2 929.4a13.4 13.4 0 1 0 26.8 0a13.4 13.4 0 1 0 -26.8 0zM253.5 929.1a13.4 13.4 0 1 0 26.8 0a13.4 13.4 0 1 0 -26.8 0zM253.7 928.9a13.4 13.4 0 1 0 26.8 0a13.4 13.4 0 1 0 -26.8 0zM254.0 928.8a13.4 13.4 0 1 0 26.8 0a13.4 13.4 0 1 0 -26.8 0zM254.3 928.7a13.4 13.4 0 1 0 26.8 0a13.4 13.4 0 1 0 -26.8 0zM254.6 928.6a13.4 13.4 0 1 0 26.8 0a13.4 13.4 0 1 0 -26.8 0zM263.6 912.5a13.4 13.4 0 1 0 26.8 0a13.4 13.4 0 1 0 -26.8 0z" fill="#ff0000"/>
<path d="M993.6 1047.0L993.6 1048.2L993.7 1049.4L993.7 1050.6L993.8 1051.8L993.9 1053.0L993.9 1054.2L994.0 1055.4L994.1 1056.6L994.2 1057.8L994.4 1059.0L994.5 1060.2L994.7 1061.4L994.9 1062.6L995.1 1063.8L995.3 1065.0L995.6 1066.1L995.8 1067.3L996.1 1068.4L996.4 1069.6L996.9 1070.7L997.3 1071.9L997.9 1073.0L998.4 1074.1L999.0 1075.2L999.7 1076.2L1000.3 1077.2L1001.0 1078.0L1001.8 1078.9L1002.6 1079.7L1003.5 1080.5L1004.5 1081.3L1005.5 1082.0L1006.6 1082.7L1007.6 1083.3L1008.7 1083.9L1009.8 1084.4L1010.8 1084.8L1011.9 1085.2L1013.1 1085.6L1014.2 1086.0L1015.3 1086.3L1016.5 1086.6L1017.7 1086.9L1018.9 1087.2L1020.1 1087.4L1021.3 1087.7L1022.5 1087.9L1023.7 1088.2L1024.8 1088.5L1026.0 1088.7L1027.2 1089.0L1028.3 1089.3L1029.5 1089.5L1030.7 1089.8L1031.9 1090.1L1033.1 1090.3L1034.2 1090.6L1035.4 1090.8L1036.6 1091.0L1037.8 1091.2L1039.0 1091.4L1040.1 1091.5L1041.3 1091.6L1042.5 1091.7L1043.7 1091.9L1044.9 1092.0L1046.1 1092.1L1047.3 1092.2L1048.5 1092.3L1049.7 1092.4L1050.9 1092.4L1052.1 1092.5L1053.3 1092.6L1054.5 1092.7L1055.7 1092.8L1056.9 1092.8L1058.1 1092.9L1059.3 1093.0L1060.5 1093.1L1061.7 1093.1L1062.9 1093.2L1064.1 1093.2L1065.3 1093.3L1066.5 1093.4L1067.7 1093.4L1068.9 1093.5L1070.1 1093.5L1071.3 1093.6L1072.5 1093.6L1073.7 1093.7L1074.9 1093.7L1076.1 1093.8L1077.3 1093.8L1078.5 1093.9L1079.7 1093.9L1080.9 1094.0L1082.1 1094.0L1083.3 1094.1L1084.5 1094.1L1085.7 1094.2L1086.9 1094.2L1088.1 1094.2L1089.3 1094.3L1090.5 1094.3L1091.7 1094.4L1092.8 1094.4L1094.0 1094.4L1095.2 1094.5L1096.4 1094.5L1097.6 1094.6L1098.8 1094.6L1100.0 1094.6L1101.2 1094.7L1102.4 1094.7L1103.6 1094.8L1104.8 1094.8L1106.0 1094.8L1107.2 1094.9L1108.4 1094.9L1109.6 1094.9L1110.8 1095.0L1112.0 1095.0L1113.2 1095.0L1114.4 1095.1L1115.6 1095.1L1116.8 1095.1L1118.0 1095.2L1119.2 1095.2L1120.4 1095.2L1121.6 1095.3L1122.8 1095.3L1124.0 1095.3L1125.2 1095.4L1126.4 1095.4L1127.6 1095.4L1128.8 1095.4L1130.0 1095.5L1131.2 1095.5L1132.4 1095.5L1133.6 1095.6L1134.8 1095.6L1136.0 1095.6L1137.2 1095.6L1138.4 1095.7L1139.6 1095.7L1140.8 1095.7L1142.0 1095.8L1143.2 1095.8L1144.4 1095.8L1145.6 1095.8L1146.8 1095.9L1148.0 1095.9L1149.2 1095.9L1150.4 1095.9L1151.6 1096.0L1152.8 1096.0L1154.0 1096.0L1155.2 1096.0L1156.4 1096.1L1157.6 1096.1L1158.8 1096.1L1160.0 1096.2L1161.2 1096.2L1162.4 1096.2L1163.6 1096.2L1164.8 1096.3L1166.0 1096.3L1167.2 1096.3L1168.4 1096.3L1169.6 1096.4L1170.8 1096.4L1172.0 1096.4L1173.2 1096.4L1174.4 1096.5L1175.6 1096.5L1176.8 1096.5L1178.0 1096.6L1179.2 1096.6L1180.4 1096.6L1181.6 1096.6L1182.8 1096.7L1184.0 1096.7L1185.2 1096.7L1186.4 1096.7L1187.6 1096.8L1188.8 1096.8L1190.0 1096.8L1191.2 1096.9L1192.4 1096.9L1193.6 1096.9L1194.8 1096.9L1196.0 1097.0L1197.2 1097.0L1198.4 1097.0L1199.6 1097.0L1200.8 1097.1L1202.0 1097.1L1203.2 1097.1L1204.4 1097.2L1205.6 1097.2L1206.8 1097.2L1208.0 1097.2L1209.2 1097.3L1210.4 1097.3L1211.6 1097.3L1212.8 1097.3L1214.0 1097.4L1215.2 1097.4L1216.4 1097.4L1217.6 1097.4L1218.8 1097.5L1220.0 1097.5L1221.2 1097.5L1222.4 1097.5L1223.6 1097.6L1224.8 1097.6L1226.0 1097.6L1227.2 1097.6L1228.4 1097.7L1229.6 1097.7L1230.8 1097.7L1232.0 1097.7L1233.2 1097.8L1234.4 1097.8L1235.6 1097.8L1236.8 1097.8L1238.0 1097.9L1239.2 1097.9L1240.4 1097.9L1241.6 1097.9L1242.8 1098.0L1244.0 1098.0L1245.2 1098.0L1246.4 1098.0L1247.6 1098.1L1248.8 1098.1L1250.0 1098.1L1251.2 1098.1L1252.4 1098.2L1253.6 1098.2L1254.8 1098.2L1256.0 1098.2L1257.2 1098.3L1258.4 1098.3L1259.6 1098.3L1260.8 1098.3L1262.0 1098.3L1263.2 1098.4L1264.4 1098.4L1265.6 1098.4L1266.8 1098.4L1268.0 1098.5L1269.2 1098.5L1270.4 1098.5L1271.6 1098.5L1272.8 1098.5L1274.0 1098.6L1275.2 1098.6L1276.4 1098.6L1277.6 1098.6L1278.8 1098.7L1280.0 1098.7L1281.2 1098.7L1282.4 1098.7L1283.6 1098.7L1284.8 1098.8L1286.0 1098.8L1287.2 1098.8L1288.4 1098.8L1289.6 1098.8L1290.8 1098.9L1292.0 1098.9L1293.2 1098.9L1294.4 1098.9L1295.6 1098.9L1296.8 1099.0L1298.0 1099.0L1299.2 1099.0L1300.4 1099.0L1301.6 1099.0L1302.8 1099.0L1304.0 1099.1L1305.2 1099.1L1306.4 1099.1L1307.6 1099.1L1308.8 1099.1L1310.0 1099.2L1311.2 1099.2L1312.4 1099.2L1313.6 1099.2L1314.8 1099.2L1316.0 1099.2L1317.2 1099.3L1318.4 1099.3L1319.6 1099.3L1320.8 1099.3L1322.0 1099.3L1323.2 1099.4L1324.4 1099.4L1325.6 1099.4L1326.8 1099.4L1328.0 1099.4L1329.2 1099.4L1330.4 1099.5L1331.6 1099.5L1332.8 1099.5L1334.0 1099.5L1335.2 1099.5L1336.4 1099.5L1337.6 1099.6L1338.8 1099.6L1340.0 1099.6L1341.2 1099.6L1342.4 1099.6L1343.6 1099.7L1344.8 1099.7L1346.0 1099.7L1347.2 1099.7L1348.4 1099.7L1349.6 1099.7L1350.8 1099.8L1352.0 1099.8L1353.2 1099.8L1354.4 1099.8L1355.6 1099.8L1356.8 1099.8L1358.0 1099.9L1359.2 1099.9L1360.4 1099.9L1361.6 1099.9L1362.8 1099.9L1364.0 1099.9L1365.2 1100.0L1366.4 1100.0L1367.6 1100.0L1368.8 1100.0L1370.0 1100.0L1371.2 1100.0L1372.4 1100.1L1373.6 1100.1L1374.8 1100.1L1376.0 1100.1L1377.2 1100.1L1378.4 1100.1L1379.6 1100.1L1380.8 1100.2L1382.0 1100.2L1383.2 1100.2L1384.4 1100.2L1385.6 1100.2L1386.8 1100.2L1388.0 1100.3L1389.2 1100.3L1390.4 1100.3L1391.6 1100.3L1392.8 1100.3L1394.0 1100.3L1395.2 1100.3L1396.4 1100.4L1397.6 1100.4L1398.8 1100.4L1400.0 1100.4L1401.2 1100.4L1402.4 1100.4L1403.6 1100.5L1404.8 1100.5L1406.0 1100.5L1407.2 1100.5L1408.4 1100.5L1409.6 1100.5L1410.8 1100.5L1412.0 1100.6L1413.2 1100.6L1414.4 1100.6L1415.6 1100.6L1416.8 1100.6L1418.0 1100.6L1419.2 1100.6L1420.4 1100.6L1421.6 1100.7L1422.8 1100.7L1424.0 1100.7L1425.2 1100.7L1426.4 1100.7L1427.6 1100.7L1428.8 1100.7L1430.0 1100.8L1431.2 1100.8L1432.4 1100.8L1433.6 1100.8L1434.8 1100.8L1436.0 1100.8L1437.2 1100.8L1438.4 1100.8L1439.6 1100.9L1440.8 1100.9L1442.0 1100.9L1443.2 1100.9L1444.4 1100.9L1445.6 1100.9L1446.8 1100.9L1448.0 1100.9L1449.2 1101.0L1450.4 1101.0L1451.6 1101.0L1452.8 1101.0L1454.0 1101.0L1455.2 1101.0L1456.4 1101.0L1457.6 1101.0L1458.8 1101.0L1460.0 1101.1L1461.2 1101.1L1462.4 1101.1L1463.6 1101.1L1464.8 1101.1L1466.0 1101.1L1467.2 1101.1L1468.4 1101.1L1469.6 1101.1L1470.8 1101.2L1472.0 1101.2L1473.2 1101.2L1474.4 1101.2L1475.6 1101.2L1476.8 1101.2L1478.0 1101.2L1479.2 1101.2L1480.4 1101.2L1481.6 1101.2L1482.8 1101.3L1484.0 1101.3L1485.2 1101.3L1486.4 1101.3L1487.6 1101.3L1488.8 1101.3L1489.0 1101.3" fill="none" stroke="#ff0000" stroke-width="26.8" stroke-linecap="round" stroke-linejoin="round"/>
<path d="M287.8 868.9L293.8 860.5M993.2 752.8L993.4 802.1" fill="none" stroke="#000e80" stroke-width="1.25"/>
<path d="M237.8 1097.2h24v24h-24zM238.1 1063.3h24v24h-24zM238.3 1043.5h24v24h-24zM238.6 1030.3h24v24h-24zM238.9 1021.1h24v24h-24zM239.2 1014.0h24v24h-24zM239.4 1008.0h24v24h-24zM239.7 1002.8h24v24h-24zM240.0 998.0h24v24h-24zM240.3 993.7h24v24h-24zM240.5 989.8h24v24h-24zM240.8 986.2h24v24h-24zM241.1 982.9h24v24h-24zM241.4 979.9h24v24h-24zM241.6 977.1h24v24h-24zM241.9 974.6h24v24h-24zM242.2 972.1h24v24h-24zM242.5 969.8h24v24h-24zM242.7 967.5h24v24h-24zM243.0 965.3h24v24h-24zM243.3 963.1h24v24h-24zM243.6 960.9h24v24h-24zM243.8 958.7h24v24h-24zM244.1 956.5h24v24h-24zM244.4 954.2h24v24h-24zM244.7 952.0h24v24h-24zM244.9 949.7h24v24h-24zM245.2 947.5h24v24h-24zM245.5 945.3h24v24h-24zM245.8 943.2h24v24h-24zM246.0 941.1h24v24h-24zM246.3 939.0h24v24h-24zM246.6 937.0h24v24h-24zM246.9 935.0h24v24h-24zM247.1 933.1h24v24h-24zM247.4 931.1h24v24h-24zM247.7 929.1h24v24h-24zM248.0 927.2h24v24h-24zM248.2 925.3h24v24h-24zM248.5 923.4h24v24h-24zM248.8 921.7h24v24h-24zM249.1 920.0h24v24h-24zM249.3 918.4h24v24h-24zM249.6 916.9h24v24h-24zM249.9 915.4h24v24h-24zM250.2 913.9h24v24h-24zM250.4 912.5h24v24h-24zM250.7 911.2h24v24h-24zM251.0 909.9h24v24h-24zM251.3 908.6h24v24h-24zM251.5 907.5h24v24h-24zM251.8 906.4h24v24h-24zM252.1 905.3h24v24h-24zM252.4 904.3h24v24h-24zM252.6 903.4h24v24h-24zM252.9 902.5h24v24h-24zM253.2 901.6h24v24h-24zM253.5 900.7h24v24h-24zM253.7 899.9h24v24h-24zM254.0 899.1h24v24h-24zM254.3 898.4h24v24h-24zM254.6 897.6h24v24h-24zM254.9 896.9h24v24h-24zM255.1 896.2h24v24h-24zM255.4 895.4h24v24h-24zM255.7 894.8h24v24h-24zM256.0 894.1h24v24h-24zM256.2 893.4h24v24h-24zM256.5 892.7h24v24h-24zM256.8 892.1h24v24h-24zM257.1 891.4h24v24h-24zM257.3 890.8h24v24h-24zM257.6 890.3h24v24h-24zM257.9 889.8h24v24h-24zM258.2 889.3h24v24h-24zM258.4 888.8h24v24h-24zM258.7 888.4h24v24h-24zM259.0 887.9h24v24h-24zM259.3 887.5h24v24h-24zM259.5 887.0h24v24h-24zM259.8 886.6h24v24h-24zM260.1 886.2h24v24h-24zM260.4 885.7h24v24h-24zM260.6 885.2h24v24h-24zM260.9 884.8h24v24h-24zM261.2 884.3h24v24h-24zM261.5 883.7h24v24h-24zM261.7 883.2h24v24h-24zM262.0 882.6h24v24h-24zM262.3 882.0h24v24h-24zM262.6 881.4h24v24h-24zM262.8 880.7h24v24h-24zM263.1 880.0h24v24h-24zM263.4 879.2h24v24h-24zM263.7 878.5h24v24h-24zM263.9 877.6h24v24h-24zM264.2 876.4h24v24h-24zM264.5 874.9h24v24h-24zM264.8 873.2h24v24h-24zM265.0 871.7h24v24h-24zM292.6 833.7h24v24h-24zM320.1 813.7h24v24h-24zM347.7 798.8h24v24h-24zM375.2 787.8h24v24h-24zM402.7 780.5h24v24h-24zM430.3 772.4h24v24h-24zM457.8 768.0h24v24h-24zM485.4 761.6h24v24h-24zM512.9 757.8h24v24h-24zM540.4 755.2h24v24h-24zM568.0 751.4h24v24h-24zM595.5 748.4h24v24h-24zM623.1 746.3h24v24h-24zM650.6 742.2h24v24h-24zM678.1 741.1h24v24h-24zM705.7 738.6h24v24h-24zM733.2 737.5h24v24h-24zM760.8 734.1h24v24h-24zM788.3 732.4h24v24h-24zM815.8 731.2h24v24h-24zM843.4 730.6h24v24h-24zM870.9 727.8h24v24h-24zM898.5 727.2h24v24h-24zM926.0 725.5h24v24h-24zM953.5 723.2h24v24h-24zM981.1 722.5h24v24h-24zM981.5 808.4h24v24h-24zM981.5 809.6h24v24h-24zM981.5 810.8h24v24h-24zM981.5 812.0h24v24h-24zM981.5 813.2h24v24h-24zM981.5 814.4h24v24h-24zM981.5 815.6h24v24h-24zM981.5 816.8h24v24h-24zM981.5 818.0h24v24h-24zM981.5 819.2h24v24h-24zM981.5 820.4h24v24h-24zM981.5 821.6h24v24h-24zM981.5 822.8h24v24h-24zM981.5 824.0h24v24h-24zM981.5 825.2h24v24h-24zM981.6 826.4h24v24h-24zM981.6 827.6h24v24h-24zM981.6 828.8h24v24h-24zM981.6 830.0h24v24h-24zM981.6 831.2h24v24h-24zM981.6 832.4h24v24h-24zM981.6 833.6h24v24h-24zM981.6 834.8h24v24h-24zM981.7 836.0h24v24h-24zM981.7 837.2h24v24h-24zM981.7 838.4h24v24h-24zM981.8 839.6h24v24h-24zM981.8 840.8h24v24h-24zM981.9 842.0h24v24h-24zM982.0 843.2h24v24h-24zM982.1 844.4h24v24h-24zM982.2 845.6h24v24h-24zM982.2 846.8h24v24h-24zM982.3 848.0h24v24h-24zM982.4 849.2h24v24h-24zM982.5 850.4h24v24h-24zM982.7 851.6h24v24h-24zM982.8 852.8h24v24h-24zM982.9 854.0h24v24h-24zM983.0 855.2h24v24h-24zM983.1 856.4h24v24h-24zM983.2 857.6h24v24h-24zM983.4 858.7h24v24h-24zM983.5 859.9h24v24h-24zM983.6 861.1h24v24h-24zM983.8 862.3h24v24h-24zM983.9 863.5h24v24h-24zM984.1 864.7h24v24h-24zM984.3 865.9h24v24h-24zM984.5 867.1h24v24h-24zM984.7 868.3h24v24h-24zM984.9 869.5h24v24h-24zM985.1 870.6h24v24h-24zM985.3 871.8h24v24h-24zM985.6 873.0h24v24h-24zM985.8 874.2h24v24h-24zM986.1 875.4h24v24h-24zM986.4 876.6h24v24h-24zM986.6 877.8h24v24h-24zM986.9 878.9h24v24h-24zM987.2 880.1h24v24h-24zM987.5 881.3h24v24h-24zM987.9 882.4h24v24h-24zM988.2 883.6h24v24h-24zM988.5 884.7h24v24h-24zM988.9 885.9h24v24h-24zM989.2 887.0h24v24h-24zM989.6 888.1h24v24h-24zM989.9 889.3h24v24h-24zM990.3 890.4h24v24h-24zM990.7 891.5h24v24h-24zM991.2 892.6h24v24h-24zM991.7 893.7h24v24h-24zM992.2 894.8h24v24h-24zM992.8 895.8h24v24h-24zM993.4 896.9h24v24h-24zM994.0 897.9h24v24h-24zM994.6 899.0h24v24h-24zM995.2 900.0h24v24h-24zM995.9 901.0h24v24h-24zM996.5 902.0h24v24h-24zM997.2 903.0h24v24h-24zM998.0 903.9h24v24h-24zM998.7 904.9h24v24h-24zM999.5 905.8h24v24h-24zM1000.2 906.7h24v24h-24zM1001.0 907.7h24v24h-24zM1001.8 908.6h24v24h-24zM1002.6 909.5h24v24h-24zM1003.4 910.3h24v24h-24zM1004.3 911.2h24v24h-24zM1005.1 912.0h24v24h-24zM1006.0 912.9h24v24h-24zM1006.8 913.7h24v24h-24zM1007.7 914.5h24v24h-24zM1008.6 915.4h24v24h-24zM1009.4 916.2h24v24h-24zM1010.3 917.1h24v24h-24zM1011.1 918.0h24v24h-24zM1012.0 918.8h24v24h-24zM1012.9 919.6h24v24h-24zM1013.9 920.2h24v24h-24zM1014.9 920.8h24v24h-24zM1015.9 921.4h24v24h-24zM1017.0 921.9h24v24h-24zM1018.1 922.4h24v24h-24zM1019.3 922.8h24v24h-24zM1020.4 923.3h24v24h-24zM1021.5 923.7h24v24h-24zM1022.7 924.1h24v24h-24zM1023.8 924.5h24v24h-24zM1024.9 924.8h24v24h-24zM1026.1 925.2h24v24h-24zM1027.2 925.6h24v24h-24zM1028.4 925.9h24v24h-24zM1029.5 926.2h24v24h-24zM1030.7 926.5h24v24h-24zM1031.9 926.8h24v24h-24zM1033.0 927.1h24v24h-24zM1034.2 927.4h24v24h-24zM1035.4 927.7h24v24h-24zM1036.5 928.0h24v24h-24zM1037.7 928.3h24v24h-24zM1038.9 928.6h24v24h-24zM1040.0 928.8h24v24h-24zM1041.2 929.1h24v24h-24zM1042.4 929.4h24v24h-24zM1043.5 929.6h24v24h-24zM1044.7 929.9h24v24h-24zM1045.9 930.2h24v24h-24zM1047.1 930.4h24v24h-24zM1048.2 930.6h24v24h-24zM1049.4 930.9h24v24h-24zM1050.6 931.1h24v24h-24zM1051.8 931.4h24v24h-24zM1052.9 931.6h24v24h-24zM1054.1 931.8h24v24h-24zM1055.3 932.1h24v24h-24zM1056.5 932.3h24v24h-24zM1057.7 932.5h24v24h-24zM1058.8 932.7h24v24h-24zM1060.0 933.0h24v24h-24zM1061.2 933.2h24v24h-24zM1062.4 933.4h24v24h-24zM1063.6 933.6h24v24h-24zM1064.7 933.8h24v24h-24zM1065.9 934.0h24v24h-24zM1067.1 934.3h24v24h-24zM1068.3 934.5h24v24h-24zM1069.5 934.7h24v24h-24zM1070.6 934.9h24v24h-24zM1071.8 935.1h24v24h-24zM1073.0 935.3h24v24h-24zM1074.2 935.5h24v24h-24zM1075.4 935.7h24v24h-24zM1076.6 935.9h24v24h-24zM1077.7 936.1h24v24h-24zM1078.9 936.2h24v24h-24zM1080.1 936.4h24v24h-24zM1081.3 936.6h24v24h-24zM1082.5 936.8h24v24h-24zM1083.7 937.0h24v24h-24zM1084.9 937.2h24v24h-24zM1086.0 937.4h24v24h-24zM1087.2 937.5h24v24h-24zM1088.4 937.7h24v24h-24zM1089.6 937.9h24v24h-24zM1090.8 938.1h24v24h-24zM1092.0 938.3h24v24h-24zM1093.2 938.5h24v24h-24zM1094.4 938.7h24v24h-24zM1095.5 938.9h24v24h-24zM1096.7 939.0h24v24h-24zM1097.9 939.2h24v24h-24zM1099.1 939.4h24v24h-24zM1100.3 939.6h24v24h-24zM1101.5 939.7h24v24h-24zM1102.7 939.9h24v24h-24zM1103.9 940.0h24v24h-24zM1105.0 940.2h24v24h-24zM1106.2 940.3h24v24h-24zM1107.4 940.4h24v24h-24zM1108.6 940.6h24v24h-24zM1109.8 940.7h24v24h-24zM1111.0 940.8h24v24h-24zM1112.2 940.9h24v24h-24zM1113.4 941.0h24v24h-24zM1114.6 941.1h24v24h-24zM1115.8 941.2h24v24h-24zM1117.0 941.3h24v24h-24zM1118.2 941.5h24v24h-24zM1119.4 941.6h24v24h-24zM1120.6 941.7h24v24h-24zM1121.8 941.8h24v24h-24zM1122.9 941.9h24v24h-24zM1124.1 942.0h24v24h-24zM1125.3 942.1h24v24h-24zM1126.5 942.1h24v24h-24zM1127.7 942.2h24v24h-24zM1128.9 942.3h24v24h-24zM1130.1 942.4h24v24h-24zM1131.3 942.5h24v24h-24zM1132.5 942.6h24v24h-24zM1133.7 942.7h24v24h-24zM1134.9 942.8h24v24h-24zM1136.1 942.9h24v24h-24zM1137.3 942.9h24v24h-24zM1138.5 943.0h24v24h-24zM1139.7 943.1h24v24h-24zM1140.9 943.2h24v24h-24zM1142.1 943.3h24v24h-24zM1143.3 943.3h24v24h-24zM1144.5 943.4h24v24h-24zM1145.7 943.5h24v24h-24zM1146.9 943.6h24v24h-24zM1148.1 943.6h24v24h-24zM1149.3 943.7h24v24h-24zM1150.5 943.8h24v24h-24zM1151.7 943.9h24v24h-24zM1152.9 943.9h24v24h-24zM1154.1 944.0h24v24h-24zM1155.3 944.1h24v24h-24zM1156.5 944.1h24v24h-24zM1157.7 944.2h24v24h-24zM1158.9 944.3h24v24h-24zM1160.1 944.4h24v24h-24zM1161.3 944.4h24v24h-24zM1162.5 944.5h24v24h-24zM1163.7 944.6h24v24h-24zM1164.9 944.6h24v24h-24zM1166.1 944.7h24v24h-24zM1167.3 944.8h24v24h-24zM1168.5 944.8h24v24h-24zM1169.7 944.9h24v24h-24zM1170.9 945.0h24v24h-24zM1172.1 945.0h24v24h-24zM1173.3 945.1h24v24h-24zM1174.5 945.2h24v24h-24zM1175.7 945.2h24v24h-24zM1176.9 945.3h24v24h-24zM1178.1 945.3h24v24h-24zM1179.3 945.4h24v24h-24zM1180.4 945.5h24v24h-24zM1181.6 945.5h24v24h-24zM1182.8 945.6h24v24h-24zM1184.0 945.6h24v24h-24zM1185.2 945.7h24v24h-24zM1186.4 945.8h24v24h-24zM1187.6 945.8h24v24h-24zM1188.8 945.9h24v24h-24zM1190.0 945.9h24v24h-24zM1191.2 946.0h24v24h-24zM1192.4 946.1h24v24h-24zM1193.6 946.1h24v24h-24zM1194.8 946.2h24v24h-24zM1196.0 946.2h24v24h-24zM1197.2 946.3h24v24h-24zM1198.4 946.3h24v24h-24zM1199.6 946.4h24v24h-24zM1200.8 946.5h24v24h-24zM1202.0 946.5h24v24h-24zM1203.2 946.6h24v24h-24zM1204.4 946.6h24v24h-24zM1205.6 946.7h24v24h-24zM1206.8 946.7h24v24h-24zM1208.0 946.8h24v24h-24zM1209.2 946.8h24v24h-24zM1210.4 946.9h24v24h-24zM1211.6 946.9h24v24h-24zM1212.8 947.0h24v24h-24zM1214.0 947.0h24v24h-24zM1215.2 947.1h24v24h-24zM1216.4 947.1h24v24h-24zM1217.6 947.2h24v24h-24zM1218.8 947.2h24v24h-24zM1220.0 947.3h24v24h-24zM1221.2 947.3h24v24h-24zM1222.4 947.4h24v24h-24zM1223.6 947.4h24v24h-24zM1224.8 947.5h24v24h-24zM1226.0 947.5h24v24h-24zM1227.2 947.6h24v24h-24zM1228.4 947.6h24v24h-24zM1229.6 947.7h24v24h-24zM1230.8 947.7h24v24h-24zM1232.0 947.8h24v24h-24zM1233.2 947.8h24v24h-24zM1234.4 947.9h24v24h-24zM1235.6 947.9h24v24h-24zM1236.8 948.0h24v24h-24zM1238.0 948.0h24v24h-24zM1239.2 948.1h24v24h-24zM1240.4 948.1h24v24h-24zM1241.6 948.2h24v24h-24zM1242.8 948.2h24v24h-24zM1244.0 948.3h24v24h-24zM1245.2 948.3h24v24h-24zM1246.4 948.4h24v24h-24zM1247.6 948.4h24v24h-24zM1248.8 948.5h24v24h-24zM1250.0 948.5h24v24h-24zM1251.2 948.6h24v24h-24zM1252.4 948.6h24v24h-24zM1253.6 948.6h24v24h-24zM1254.8 948.7h24v24h-24zM1256.0 948.7h24v24h-24zM1257.2 948.8h24v24h-24zM1258.4 948.8h24v24h-24zM1259.6 948.9h24v24h-24zM1260.8 948.9h24v24h-24zM1262.0 949.0h24v24h-24zM1263.2 949.0h24v24h-24zM1264.4 949.1h24v24h-24zM1265.6 949.1h24v24h-24zM1266.8 949.2h24v24h-24zM1268.0 949.2h24v24h-24zM1269.2 949.3h24v24h-24zM1270.4 949.3h24v24h-24zM1271.6 949.3h24v24h-24zM1272.8 949.4h24v24h-24zM1274.0 949.4h24v24h-24zM1275.2 949.5h24v24h-24zM1276.4 949.5h24v24h-24zM1277.6 949.6h24v24h-24zM1278.8 949.6h24v24h-24zM1280.0 949.7h24v24h-24zM1281.2 949.7h24v24h-24zM1282.4 949.8h24v24h-24zM1283.6 949.8h24v24h-24zM1284.8 949.9h24v24h-24zM1286.0 949.9h24v24h-24zM1287.2 950.0h24v24h-24zM1288.4 950.0h24v24h-24zM1289.6 950.1h24v24h-24zM1290.8 950.1h24v24h-24zM1292.0 950.2h24v24h-24zM1293.2 950.2h24v24h-24zM1294.4 950.3h24v24h-24zM1295.6 950.3h24v24h-24zM1296.8 950.4h24v24h-24zM1297.9 950.4h24v24h-24zM1299.1 950.4h24v24h-24zM1300.3 950.5h24v24h-24zM1301.5 950.5h24v24h-24zM1302.7 950.6h24v24h-24zM1303.9 950.6h24v24h-24zM1305.1 950.7h24v24h-24zM1306.3 950.7h24v24h-24zM1307.5 950.8h24v24h-24zM1308.7 950.8h24v24h-24zM1309.9 950.9h24v24h-24zM1311.1 950.9h24v24h-24zM1312.3 951.0h24v24h-24zM1313.5 951.0h24v24h-24zM1314.7 951.1h24v24h-24zM1315.9 951.1h24v24h-24zM1317.1 951.2h24v24h-24zM1318.3 951.2h24v24h-24zM1319.5 951.2h24v24h-24zM1320.7 951.3h24v24h-24zM1321.9 951.3h24v24h-24zM1323.1 951.4h24v24h-24zM1324.3 951.4h24v24h-24zM1325.5 951.5h24v24h-24zM1326.7 951.5h24v24h-24zM1327.9 951.6h24v24h-24zM1329.1 951.6h24v24h-24zM1330.3 951.7h24v24h-24zM1331.5 951.7h24v24h-24zM1332.7 951.8h24v24h-24zM1333.9 951.8h24v24h-24zM1335.1 951.8h24v24h-24zM1336.3 951.9h24v24h-24zM1337.5 951.9h24v24h-24zM1338.7 952.0h24v24h-24zM1339.9 952.0h24v24h-24zM1341.1 952.1h24v24h-24zM1342.3 952.1h24v24h-24zM1343.5 952.2h24v24h-24zM1344.7 952.2h24v24h-24zM1345.9 952.2h24v24h-24zM1347.1 952.3h24v24h-24zM1348.3 952.3h24v24h-24zM1349.5 952.4h24v24h-24zM1350.7 952.4h24v24h-24zM1351.9 952.5h24v24h-24zM1353.1 952.5h24v24h-24zM1354.3 952.6h24v24h-24zM1355.5 952.6h24v24h-24zM1356.7 952.7h24v24h-24zM1357.9 952.7h24v24h-24zM1359.1 952.7h24v24h-24zM1360.3 952.8h24v24h-24zM1361.5 952.8h24v24h-24zM1362.7 952.9h24v24h-24zM1363.9 952.9h24v24h-24zM1365.1 953.0h24v24h-24zM1366.3 953.0h24v24h-24zM1367.5 953.1h24v24h-24zM1368.7 953.1h24v24h-24zM1369.9 953.1h24v24h-24zM1371.1 953.2h24v24h-24zM1372.3 953.2h24v24h-24zM1373.5 953.3h24v24h-24zM1374.7 953.3h24v24h-24zM1375.9 953.4h24v24h-24zM1377.1 953.4h24v24h-24zM1378.3 953.4h24v24h-24zM1379.5 953.5h24v24h-24zM1380.7 953.5h24v24h-24zM1381.9 953.6h24v24h-24zM1383.1 953.6h24v24h-24zM1384.3 953.7h24v24h-24zM1385.5 953.7h24v24h-24zM1386.7 953.8h24v24h-24zM1387.9 953.8h24v24h-24zM1389.1 953.8h24v24h-24zM1390.3 953.9h24v24h-24zM1391.5 953.9h24v24h-24zM1392.7 954.0h24v24h-24zM1393.9 954.0h24v24h-24zM1395.1 954.1h24v24h-24zM1396.3 954.1h24v24h-24zM1397.5 954.1h24v24h-24zM1398.7 954.2h24v24h-24zM1399.9 954.2h24v24h-24zM1401.1 954.3h24v24h-24zM1402.3 954.3h24v24h-24zM1403.5 954.4h24v24h-24zM1404.7 954.4h24v24h-24zM1405.9 954.4h24v24h-24zM1407.1 954.5h24v24h-24zM1408.3 954.5h24v24h-24zM1409.5 954.6h24v24h-24zM1410.7 954.6h24v24h-24zM1411.9 954.7h24v24h-24zM1413.1 954.7h24v24h-24zM1414.3 954.7h24v24h-24zM1415.5 954.8h24v24h-24zM1416.7 954.8h24v24h-24zM1417.9 954.9h24v24h-24zM1419.1 954.9h24v24h-24zM1420.3 955.0h24v24h-24zM1421.5 955.0h24v24h-24zM1422.7 955.0h24v24h-24zM1423.9 955.1h24v24h-24zM1425.1 955.1h24v24h-24zM1426.3 955.2h24v24h-24zM1427.5 955.2h24v24h-24zM1428.7 955.2h24v24h-24zM1429.9 955.3h24v24h-24zM1431.1 955.3h24v24h-24zM1432.3 955.4h24v24h-24zM1433.5 955.4h24v24h-24zM1434.7 955.5h24v24h-24zM1435.9 955.5h24v24h-24zM1437.1 955.5h24v24h-24zM1438.3 955.6h24v24h-24zM1439.5 955.6h24v24h-24zM1440.7 955.7h24v24h-24zM1441.9 955.7h24v24h-24zM1443.1 955.7h24v24h-24zM1444.3 955.8h24v24h-24zM1445.4 955.8h24v24h-24zM1446.6 955.9h24v24h-24zM1447.8 955.9h24v24h-24zM1449.0 956.0h24v24h-24zM1450.2 956.0h24v24h-24zM1451.4 956.0h24v24h-24zM1452.6 956.1h24v24h-24zM1453.8 956.1h24v24h-24zM1455.0 956.2h24v24h-24zM1456.2 956.2h24v24h-24zM1457.4 956.2h24v24h-24zM1458.6 956.3h24v24h-24zM1459.8 956.3h24v24h-24zM1461.0 956.4h24v24h-24zM1462.2 956.4h24v24h-24zM1463.4 956.4h24v24h-24zM1464.6 956.5h24v24h-24zM1465.8 956.5h24v24h-24zM1467.0 956.6h24v24h-24zM1468.2 956.6h24v24h-24zM1469.4 956.6h24v24h-24zM1470.6 956.7h24v24h-24zM1471.8 956.7h24v24h-24zM1473.0 956.8h24v24h-24zM1474.2 956.8h24v24h-24zM1475.4 956.8h24v24h-24zM1476.6 956.9h24v24h-24zM1477.0 956.9h24v24h-24z" fill="#000e80"/>
<path d="M289.4 866.2L292.3 863.0M993.1 790.1L993.4 873.0" fill="none" stroke="#0000ff" stroke-width="1.25"/>
<path d="M291.2 849.4a13.4 13.4 0 1 0 26.8 0a13.4 13.4 0 1 0 -26.8 0zM318.7 834.2a13.4 13.4 0 1 0 26.8 0a13.4 13.4 0 1 0 -26.8 0zM346.3 822.8a13.4 13.4 0 1 0 26.8 0a13.4 13.4 0 1 0 -26.8 0zM373.8 816.4a13.4 13.4 0 1 0 26.8 0a13.4 13.4 0 1 0 -26.8 0zM401.3 809.7a13.4 13.4 0 1 0 26.8 0a13.4 13.4 0 1 0 -26.8 0zM428.9 804.4a13.4 13.4 0 1 0 26.8 0a13.4 13.4 0 1 0 -26.8 0zM456.4 801.5a13.4 13.4 0 1 0 26.8 0a13.4 13.4 0 1 0 -26.8 0zM484.0 797.5a13.4 13.4 0 1 0 26.8 0a13.4 13.4 0 1 0 -26.8 0zM511.5 795.8a13.4 13.4 0 1 0 26.8 0a13.4 13.4 0 1 0 -26.8 0zM539.0 793.2a13.4 13.4 0 1 0 26.8 0a13.4 13.4 0 1 0 -26.8 0zM566.6 789.8a13.4 13.4 0 1 0 26.8 0a13.4 13.4 0 1 0 -26.8 0zM594.1 787.6a13.4 13.4 0 1 0 26.8 0a13.4 13.4 0 1 0 -26.8 0zM621.7 785.2a13.4 13.4 0 1 0 26.8 0a13.4 13.4 0 1 0 -26.8 0zM649.2 783.9a13.4 13.4 0 1 0 26.8 0a13.4 13.4 0 1 0 -26.8 0zM676.7 783.2a13.4 13.4 0 1 0 26.8 0a13.4 13.4 0 1 0 -26.8 0zM704.3 782.0a13.4 13.4 0 1 0 26.8 0a13.4 13.4 0 1 0 -26.8 0zM731.8 781.3a13.4 13.4 0 1 0 26.8 0a13.4 13.4 0 1 0 -26.8 0zM759.4 777.9a13.4 13.4 0 1 0 26.8 0a13.4 13.4 0 1 0 -26.8 0zM786.9 777.0a13.4 13.4 0 1 0 26.8 0a13.4 13.4 0 1 0 -26.8 0zM814.4 777.4a13.4 13.4 0 1 0 26.8 0a13.4 13.4 0 1 0 -26.8 0zM842.0 775.6a13.4 13.4 0 1 0 26.8 0a13.4 13.4 0 1 0 -26.8 0zM869.5 774.5a13.4 13.4 0 1 0 26.8 0a13.4 13.4 0 1 0 -26.8 0zM897.1 774.7a13.4 13.4 0 1 0 26.8 0a13.4 13.4 0 1 0 -26.8 0zM924.6 774.2a13.4 13.4 0 1 0 26.8 0a13.4 13.4 0 1 0 -26.8 0zM952.1 772.2a13.4 13.4 0 1 0 26.8 0a13.4 13.4 0 1 0 -26.8 0zM979.7 771.8a13.4 13.4 0 1 0 26.8 0a13.4 13.4 0 1 0 -26.8 0z" fill="#0000ff"/>
<path d="M236.4 1097.7a13.4 13.4 0 1 0 26.8 0a13.4 13.4 0 1 0 -26.8 0zM236.7 1065.0a13.4 13.4 0 1 0 26.8 0a13.4 13.4 0 1 0 -26.8 0zM236.9 1047.9a13.4 13.4 0 1 0 26.8 0a13.4 13.4 0 1 0 -26.8 0zM237.2 1036.8a13.4 13.4 0 1 0 26.8 0a13.4 13.4 0 1 0 -26.8 0zM237.5 1029.1a13.4 13.4 0 1 0 26.8 0a13.4 13.4 0 1 0 -26.8 0zM237.8 1023.2a13.4 13.4 0 1 0 26.8 0a13.4 13.4 0 1 0 -26.8 0zM238.0 1018.1a13.4 13.4 0 1 0 26.8 0a13.4 13.4 0 1 0 -26.8 0zM238.3 1013.5a13.4 13.4 0 1 0 26.8 0a13.4 13.4 0 1 0 -26.8 0zM238.6 1009.6a13.4 13.4 0 1 0 26.8 0a13.4 13.4 0 1 0 -26.8 0zM238.9 1005.9a13.4 13.4 0 1 0 26.8 0a13.4 13.4 0 1 0 -26.8 0zM239.1 1002.2a13.4 13.4 0 1 0 26.8 0a13.4 13.4 0 1 0 -26.8 0zM239.4 998.5a13.4 13.4 0 1 0 26.8 0a13.4 13.4 0 1 0 -26.8 0zM239.7 994.9a13.4 13.4 0 1 0 26.8 0a13.4 13.4 0 1 0 -26.8 0zM240.0 991.4a13.4 13.4 0 1 0 26.8 0a13.4 13.4 0 1 0 -26.8 0zM240.2 987.9a13.4 13.4 0 1 0 26.8 0a13.4 13.4 0 1 0 -26.8 0zM240.5 984.5a13.4 13.4 0 1 0 26.8 0a13.4 13.4 0 1 0 -26.8 0zM240.8 981.2a13.4 13.4 0 1 0 26.8 0a13.4 13.4 0 1 0 -26.8 0zM241.1 978.0a13.4 13.4 0 1 0 26.8 0a13.4 13.4 0 1 0 -26.8 0zM241.3 974.8a13.4 13.4 0 1 0 26.8 0a13.4 13.4 0 1 0 -26.8 0zM241.6 971.7a13.4 13.4 0 1 0 26.8 0a13.4 13.4 0 1 0 -26.8 0zM241.9 968.7a13.4 13.4 0 1 0 26.8 0a13.4 13.4 0 1 0 -26.8 0zM242.2 965.7a13.4 13.4 0 1 0 26.8 0a13.4 13.4 0 1 0 -26.8 0zM242.4 962.8a13.4 13.4 0 1 0 26.8 0a13.4 13.4 0 1 0 -26.8 0zM242.7 960.0a13.4 13.4 0 1 0 26.8 0a13.4 13.4 0 1 0 -26.8 0zM243.0 957.1a13.4 13.4 0 1 0 26.8 0a13.4 13.4 0 1 0 -26.8 0zM243.3 954.0a13.4 13.4 0 1 0 26.8 0a13.4 13.4 0 1 0 -26.8 0zM243.5 950.9a13.4 13.4 0 1 0 26.8 0a13.4 13.4 0 1 0 -26.8 0zM243.8 947.8a13.4 13.4 0 1 0 26.8 0a13.4 13.4 0 1 0 -26.8 0zM244.1 944.8a13.4 13.4 0 1 0 26.8 0a13.4 13.4 0 1 0 -26.8 0zM244.4 942.0a13.4 13.4 0 1 0 26.8 0a13.4 13.4 0 1 0 -26.8 0zM244.6 939.2a13.4 13.4 0 1 0 26.8 0a13.4 13.4 0 1 0 -26.8 0zM244.9 936.4a13.4 13.4 0 1 0 26.8 0a13.4 13.4 0 1 0 -26.8 0zM245.2 933.8a13.4 13.4 0 1 0 26.8 0a13.4 13.4 0 1 0 -26.8 0zM245.5 931.5a13.4 13.4 0 1 0 26.8 0a13.4 13.4 0 1 0 -26.8 0zM245.7 929.7a13.4 13.4 0 1 0 26.8 0a13.4 13.4 0 1 0 -26.8 0zM246.0 928.3a13.4 13.4 0 1 0 26.8 0a13.4 13.4 0 1 0 -26.8 0zM246.3 927.0a13.4 13.4 0 1 0 26.8 0a13.4 13.4 0 1 0 -26.8 0zM246.6 925.9a13.4 13.4 0 1 0 26.8 0a13.4 13.4 0 1 0 -26.8 0zM246.8 924.9a13.4 13.4 0 1 0 26.8 0a13.4 13.4 0 1 0 -26.8 0zM247.1 924.0a13.4 13.4 0 1 0 26.8 0a13.4 13.4 0 1 0 -26.8 0zM247.4 923.2a13.4 13.4 0 1 0 26.8 0a13.4 13.4 0 1 0 -26.8 0zM247.7 922.4a13.4 13.4 0 1 0 26.8 0a13.4 13.4 0 1 0 -26.8 0zM247.9 921.6a13.4 13.4 0 1 0 26.8 0a13.4 13.4 0 1 0 -26.8 0zM248.2 920.8a13.4 13.4 0 1 0 26.8 0a13.4 13.4 0 1 0 -26.8 0zM248.5 920.1a13.4 13.4 0 1 0 26.8 0a13.4 13.4 0 1 0 -26.8 0zM248.8 919.3a13.4 13.4 0 1 0 26.8 0a13.4 13.4 0 1 0 -26.8 0zM249.0 918.5a13.4 13.4 0 1 0 26.8 0a13.4 13.4 0 1 0 -26.8 0zM249.3 917.6a13.4 13.4 0 1 0 26.8 0a13.4 13.4 0 1 0 -26.8 0zM249.6 916.7a13.4 13.4 0 1 0 26.8 0a13.4 13.4 0 1 0 -26.8 0zM249.9 915.7a13.4 13.4 0 1 0 26.8 0a13.4 13.4 0 1 0 -26.8 0zM250.1 914.7a13.4 13.4 0 1 0 26.8 0a13.4 13.4 0 1 0 -26.8 0zM250.4 913.5a13.4 13.4 0 1 0 26.8 0a13.4 13.4 0 1 0 -26.8 0zM250.7 912.3a13.4 13.4 0 1 0 26.8 0a13.4 13.4 0 1 0 -26.8 0zM251.0 911.0a13.4 13.4 0 1 0 26.8 0a13.4 13.4 0 1 0 -26.8 0zM251.2 909.8a13.4 13.4 0 1 0 26.8 0a13.4 13.4 0 1 0 -26.8 0zM251.5 908.5a13.4 13.4 0 1 0 26.8 0a13.4 13.4 0 1 0 -26.8 0zM251.8 907.2a13.4 13.4 0 1 0 26.8 0a13.4 13.4 0 1 0 -26.8 0zM252.1 906.0a13.4 13.4 0 1 0 26.8 0a13.4 13.4 0 1 0 -26.8 0zM252.3 904.8a13.4 13.4 0 1 0 26.8 0a13.4 13.4 0 1 0 -26.8 0zM252.6 903.7a13.4 13.4 0 1 0 26.8 0a13.4 13.4 0 1 0 -26.8 0zM252.9 902.7a13.4 13.4 0 1 0 26.8 0a13.4 13.4 0 1 0 -26.8 0zM253.2 901.7a13.4 13.4 0 1 0 26.8 0a13.4 13.4 0 1 0 -26.8 0zM253.5 900.9a13.4 13.4 0 1 0 26.8 0a13.4 13.4 0 1 0 -26.8 0zM253.7 900.0a13.4 13.4 0 1 0 26.8 0a13.4 13.4 0 1 0 -26.8 0zM254.0 899.2a13.4 13.4 0 1 0 26.8 0a13.4 13.4 0 1 0 -26.8 0zM254.3 898.4a13.4 13.4 0 1 0 26.8 0a13.4 13.4 0 1 0 -26.8 0zM254.6 897.6a13.4 13.4 0 1 0 26.8 0a13.4 13.4 0 1 0 -26.8 0zM254.8 896.9a13.4 13.4 0 1 0 26.8 0a13.4 13.4 0 1 0 -26.8 0zM255.1 896.2a13.4 13.4 0 1 0 26.8 0a13.4 13.4 0 1 0 -26.8 0zM255.4 895.5a13.4 13.4 0 1 0 26.8 0a13.4 13.4 0 1 0 -26.8 0zM255.7 894.8a13.4 13.4 0 1 0 26.8 0a13.4 13.4 0 1 0 -26.8 0zM255.9 894.2a13.4 13.4 0 1 0 26.8 0a13.4 13.4 0 1 0 -26.8 0zM256.2 893.5a13.4 13.4 0 1 0 26.8 0a13.4 13.4 0 1 0 -26.8 0zM256.5 892.9a13.4 13.4 0 1 0 26.8 0a13.4 13.4 0 1 0 -26.8 0zM256.8 892.2a13.4 13.4 0 1 0 26.8 0a13.4 13.4 0 1 0 -26.8 0zM257.0 891.6a13.4 13.4 0 1 0 26.8 0a13.4 13.4 0 1 0 -26.8 0zM257.3 891.0a13.4 13.4 0 1 0 26.8 0a13.4 13.4 0 1 0 -26.8 0zM257.6 890.4a13.4 13.4 0 1 0 26.8 0a13.4 13.4 0 1 0 -26.8 0zM257.9 889.8a13.4 13.4 0 1 0 26.8 0a13.4 13.4 0 1 0 -26.8 0zM258.1 889.2a13.4 13.4 0 1 0 26.8 0a13.4 13.4 0 1 0 -26.8 0zM258.4 888.6a13.4 13.4 0 1 0 26.8 0a13.4 13.4 0 1 0 -26.8 0zM258.7 888.0a13.4 13.4 0 1 0 26.8 0a13.4 13.4 0 1 0 -26.8 0zM259.0 887.4a13.4 13.4 0 1 0 26.8 0a13.4 13.4 0 1 0 -26.8 0zM259.2 886.8a13.4 13.4 0 1 0 26.8 0a13.4 13.4 0 1 0 -26.8 0zM259.5 886.2a13.4 13.4 0 1 0 26.8 0a13.4 13.4 0 1 0 -26.8 0zM259.8 885.6a13.4 13.4 0 1 0 26.8 0a13.4 13.4 0 1 0 -26.8 0zM260.1 885.0a13.4 13.4 0 1 0 26.8 0a13.4 13.4 0 1 0 -26.8 0zM260.3 884.5a13.4 13.4 0 1 0 26.8 0a13.4 13.4 0 1 0 -26.8 0zM260.6 884.0a13.4 13.4 0 1 0 26.8 0a13.4 13.4 0 1 0 -26.8 0zM260.9 883.5a13.4 13.4 0 1 0 26.8 0a13.4 13.4 0 1 0 -26.8 0zM261.2 883.0a13.4 13.4 0 1 0 26.8 0a13.4 13.4 0 1 0 -26.8 0zM261.4 882.6a13.4 13.4 0 1 0 26.8 0a13.4 13.4 0 1 0 -26.8 0zM261.7 882.2a13.4 13.4 0 1 0 26.8 0a13.4 13.4 0 1 0 -26.8 0zM262.0 881.8a13.4 13.4 0 1 0 26.8 0a13.4 13.4 0 1 0 -26.8 0zM262.3 881.4a13.4 13.4 0 1 0 26.8 0a13.4 13.4 0 1 0 -26.8 0zM262.5 881.0a13.4 13.4 0 1 0 26.8 0a13.4 13.4 0 1 0 -26.8 0zM262.8 880.7a13.4 13.4 0 1 0 26.8 0a13.4 13.4 0 1 0 -26.8 0zM263.1 880.3a13.4 13.4 0 1 0 26.8 0a13.4 13.4 0 1 0 -26.8 0zM263.4 880.0a13.4 13.4 0 1 0 26.8 0a13.4 13.4 0 1 0 -26.8 0zM263.6 879.7a13.4 13.4 0 1 0 26.8 0a13.4 13.4 0 1 0 -26.8 0z" fill="#0000ff"/>
<path d="M993.5 891.3L993.5 892.5L993.5 893.7L993.5 894.9L993.5 896.1L993.5 897.3L993.5 898.5L993.5 899.7L993.5 900.9L993.5 902.1L993.5 903.3L993.5 904.5L993.5 905.7L993.5 906.9L993.5 908.1L993.5 909.3L993.5 910.5L993.5 911.7L993.5 912.9L993.5 914.1L993.5 915.3L993.5 916.5L993.5 917.7L993.5 918.9L993.5 920.1L993.5 921.3L993.5 922.5L993.5 923.7L993.5 924.9L993.5 926.1L993.5 927.3L993.5 928.5L993.5 929.7L993.5 930.9L993.5 932.1L993.6 933.3L993.7 934.5L993.8 935.7L993.9 936.9L994.0 938.1L994.2 939.3L994.4 940.5L994.5 941.7L994.7 942.9L994.9 944.0L995.0 945.2L995.2 946.4L995.4 947.6L995.7 948.8L995.9 949.9L996.2 951.1L996.5 952.3L996.8 953.5L997.2 954.6L997.5 955.8L997.9 956.9L998.3 958.1L998.7 959.2L999.1 960.3L999.6 961.4L1000.0 962.5L1000.6 963.5L1001.1 964.6L1001.7 965.7L1002.4 966.7L1003.0 967.8L1003.7 968.8L1004.4 969.8L1005.1 970.7L1005.8 971.7L1006.5 972.6L1007.2 973.5L1008.0 974.5L1008.8 975.4L1009.7 976.2L1010.5 977.1L1011.4 977.9L1012.3 978.7L1013.2 979.5L1014.1 980.3L1015.1 981.0L1016.0 981.8L1017.0 982.5L1017.9 983.1L1018.9 983.8L1020.0 984.5L1021.0 985.1L1022.0 985.7L1023.1 986.3L1024.1 986.9L1025.2 987.5L1026.2 988.1L1027.3 988.6L1028.4 989.2L1029.4 989.7L1030.5 990.2L1031.6 990.7L1032.7 991.2L1033.8 991.7L1034.9 992.2L1036.0 992.7L1037.1 993.1L1038.2 993.6L1039.4 994.0L1040.5 994.4L1041.6 994.9L1042.7 995.3L1043.9 995.7L1045.0 996.1L1046.1 996.5L1047.3 996.9L1048.4 997.3L1049.5 997.7L1050.7 998.1L1051.8 998.5L1053.0 998.8L1054.2 999.1L1055.3 999.5L1056.5 999.8L1057.6 1000.0L1058.8 1000.3L1060.0 1000.5L1061.1 1000.7L1062.3 1000.9L1063.5 1001.0L1064.7 1001.2L1065.9 1001.3L1067.1 1001.5L1068.3 1001.6L1069.5 1001.7L1070.6 1001.8L1071.8 1002.0L1073.0 1002.1L1074.2 1002.2L1075.4 1002.3L1076.6 1002.4L1077.8 1002.6L1079.0 1002.7L1080.2 1002.8L1081.4 1003.0L1082.6 1003.1L1083.8 1003.3L1085.0 1003.4L1086.2 1003.6L1087.4 1003.7L1088.6 1003.9L1089.8 1004.0L1090.9 1004.2L1092.1 1004.3L1093.3 1004.5L1094.5 1004.6L1095.7 1004.8L1096.9 1004.9L1098.1 1005.1L1099.3 1005.3L1100.5 1005.4L1101.7 1005.6L1102.8 1005.7L1104.0 1005.9L1105.2 1006.1L1106.4 1006.2L1107.6 1006.4L1108.8 1006.5L1110.0 1006.7L1111.2 1006.9L1112.4 1007.0L1113.6 1007.2L1114.8 1007.3L1115.9 1007.5L1117.1 1007.6L1118.3 1007.8L1119.5 1007.9L1120.7 1008.1L1121.9 1008.2L1123.1 1008.4L1124.3 1008.5L1125.5 1008.7L1126.7 1008.8L1127.9 1008.9L1129.0 1009.1L1130.2 1009.2L1131.4 1009.3L1132.6 1009.5L1133.8 1009.6L1135.0 1009.7L1136.2 1009.8L1137.4 1010.0L1138.6 1010.1L1139.8 1010.2L1141.0 1010.3L1142.2 1010.4L1143.4 1010.5L1144.6 1010.6L1145.8 1010.7L1146.9 1010.8L1148.1 1010.9L1149.3 1011.0L1150.5 1011.1L1151.7 1011.2L1152.9 1011.3L1154.1 1011.4L1155.3 1011.5L1156.5 1011.6L1157.7 1011.7L1158.9 1011.8L1160.1 1011.9L1161.3 1012.0L1162.5 1012.1L1163.7 1012.2L1164.9 1012.3L1166.1 1012.3L1167.3 1012.4L1168.5 1012.5L1169.7 1012.6L1170.9 1012.7L1172.1 1012.7L1173.3 1012.8L1174.5 1012.9L1175.7 1013.0L1176.9 1013.0L1178.1 1013.1L1179.3 1013.2L1180.5 1013.2L1181.7 1013.3L1182.9 1013.3L1184.1 1013.4L1185.3 1013.5L1186.5 1013.5L1187.7 1013.6L1188.8 1013.6L1190.0 1013.7L1191.2 1013.8L1192.4 1013.8L1193.6 1013.9L1194.8 1013.9L1196.0 1014.0L1197.2 1014.0L1198.4 1014.1L1199.6 1014.1L1200.8 1014.2L1202.0 1014.2L1203.2 1014.3L1204.4 1014.3L1205.6 1014.4L1206.8 1014.4L1208.0 1014.5L1209.2 1014.5L1210.4 1014.6L1211.6 1014.6L1212.8 1014.7L1214.0 1014.7L1215.2 1014.8L1216.4 1014.8L1217.6 1014.9L1218.8 1014.9L1220.0 1014.9L1221.2 1015.0L1222.4 1015.0L1223.6 1015.1L1224.8 1015.1L1226.0 1015.2L1227.2 1015.2L1228.4 1015.2L1229.6 1015.3L1230.8 1015.3L1232.0 1015.4L1233.2 1015.4L1234.4 1015.4L1235.6 1015.5L1236.8 1015.5L1238.0 1015.6L1239.2 1015.6L1240.4 1015.6L1241.6 1015.7L1242.8 1015.7L1244.0 1015.8L1245.2 1015.8L1246.4 1015.8L1247.6 1015.9L1248.8 1015.9L1250.0 1016.0L1251.2 1016.0L1252.4 1016.0L1253.6 1016.1L1254.8 1016.1L1256.0 1016.1L1257.2 1016.2L1258.4 1016.2L1259.6 1016.3L1260.8 1016.3L1262.0 1016.3L1263.2 1016.4L1264.4 1016.4L1265.6 1016.4L1266.8 1016.5L1268.0 1016.5L1269.2 1016.5L1270.4 1016.6L1271.6 1016.6L1272.8 1016.7L1274.0 1016.7L1275.2 1016.7L1276.4 1016.8L1277.6 1016.8L1278.8 1016.8L1280.0 1016.9L1281.2 1016.9L1282.4 1016.9L1283.6 1017.0L1284.8 1017.0L1286.0 1017.1L1287.2 1017.1L1288.4 1017.1L1289.6 1017.2L1290.8 1017.2L1292.0 1017.2L1293.2 1017.3L1294.4 1017.3L1295.6 1017.4L1296.8 1017.4L1298.0 1017.4L1299.2 1017.5L1300.4 1017.5L1301.6 1017.6L1302.8 1017.6L1304.0 1017.6L1305.2 1017.7L1306.4 1017.7L1307.6 1017.7L1308.8 1017.8L1310.0 1017.8L1311.2 1017.9L1312.4 1017.9L1313.6 1017.9L1314.8 1018.0L1316.0 1018.0L1317.2 1018.0L1318.4 1018.1L1319.6 1018.1L1320.8 1018.2L1322.0 1018.2L1323.2 1018.2L1324.4 1018.3L1325.6 1018.3L1326.8 1018.3L1328.0 1018.4L1329.2 1018.4L1330.4 1018.5L1331.6 1018.5L1332.8 1018.5L1334.0 1018.6L1335.2 1018.6L1336.4 1018.6L1337.6 1018.7L1338.8 1018.7L1340.0 1018.8L1341.2 1018.8L1342.4 1018.8L1343.6 1018.9L1344.8 1018.9L1346.0 1018.9L1347.2 1019.0L1348.4 1019.0L1349.6 1019.0L1350.8 1019.1L1352.0 1019.1L1353.2 1019.1L1354.4 1019.2L1355.6 1019.2L1356.8 1019.3L1358.0 1019.3L1359.2 1019.3L1360.4 1019.4L1361.6 1019.4L1362.8 1019.4L1364.0 1019.5L1365.2 1019.5L1366.4 1019.5L1367.6 1019.6L1368.8 1019.6L1370.0 1019.6L1371.2 1019.7L1372.4 1019.7L1373.6 1019.7L1374.8 1019.8L1376.0 1019.8L1377.2 1019.8L1378.4 1019.9L1379.6 1019.9L1380.8 1020.0L1381.9 1020.0L1383.1 1020.0L1384.3 1020.1L1385.5 1020.1L1386.7 1020.1L1387.9 1020.2L1389.1 1020.2L1390.3 1020.2L1391.5 1020.3L1392.7 1020.3L1393.9 1020.3L1395.1 1020.4L1396.3 1020.4L1397.5 1020.4L1398.7 1020.5L1399.9 1020.5L1401.1 1020.5L1402.3 1020.6L1403.5 1020.6L1404.7 1020.6L1405.9 1020.7L1407.1 1020.7L1408.3 1020.7L1409.5 1020.8L1410.7 1020.8L1411.9 1020.8L1413.1 1020.9L1414.3 1020.9L1415.5 1020.9L1416.7 1021.0L1417.9 1021.0L1419.1 1021.0L1420.3 1021.1L1421.5 1021.1L1422.7 1021.1L1423.9 1021.2L1425.1 1021.2L1426.3 1021.2L1427.5 1021.3L1428.7 1021.3L1429.9 1021.3L1431.1 1021.4L1432.3 1021.4L1433.5 1021.4L1434.7 1021.5L1435.9 1021.5L1437.1 1021.5L1438.3 1021.6L1439.5 1021.6L1440.7 1021.6L1441.9 1021.7L1443.1 1021.7L1444.3 1021.7L1445.5 1021.8L1446.7 1021.8L1447.9 1021.8L1449.1 1021.9L1450.3 1021.9L1451.5 1021.9L1452.7 1022.0L1453.9 1022.0L1455.1 1022.0L1456.3 1022.0L1457.5 1022.1L1458.7 1022.1L1459.9 1022.1L1461.1 1022.2L1462.3 1022.2L1463.5 1022.2L1464.7 1022.3L1465.9 1022.3L1467.1 1022.3L1468.3 1022.4L1469.5 1022.4L1470.7 1022.4L1471.9 1022.5L1473.1 1022.5L1474.3 1022.5L1475.5 1022.6L1476.7 1022.6L1477.9 1022.6L1479.1 1022.6L1480.3 1022.7L1481.5 1022.7L1482.7 1022.7L1483.9 1022.8L1485.1 1022.8L1486.3 1022.8L1487.5 1022.9L1488.7 1022.9L1489.0 1022.9" fill="none" stroke="#0000ff" stroke-width="26.8" stroke-linecap="round" stroke-linejoin="round"/>
<path d="M249.9 758.5L250.0 729.0M250.2 692.4L250.2 686.1M285.6 244.9L296.0 225.2M318.1 196.7L318.6 196.3M993.2 126.7L993.4 182.4" fill="none" stroke="#026202" stroke-width="1.25"/>
<path d="M237.8 764.8h24v24h-24zM238.1 698.7h24v24h-24zM238.3 655.8h24v24h-24zM238.6 621.6h24v24h-24zM238.9 594.9h24v24h-24zM239.2 573.0h24v24h-24zM239.4 554.2h24v24h-24zM239.7 537.7h24v24h-24zM240.0 522.9h24v24h-24zM240.3 509.3h24v24h-24zM240.5 496.4h24v24h-24zM240.8 484.1h24v24h-24zM241.1 472.4h24v24h-24zM241.4 461.6h24v24h-24zM241.6 451.6h24v24h-24zM241.9 442.4h24v24h-24zM242.2 434.0h24v24h-24zM242.5 426.4h24v24h-24zM242.7 419.6h24v24h-24zM243.0 413.5h24v24h-24zM243.3 408.0h24v24h-24zM243.6 403.0h24v24h-24zM243.8 398.5h24v24h-24zM244.1 394.4h24v24h-24zM244.4 390.4h24v24h-24zM244.7 386.7h24v24h-24zM244.9 383.1h24v24h-24zM245.2 379.7h24v24h-24zM245.5 376.3h24v24h-24zM245.8 372.9h24v24h-24zM246.0 369.6h24v24h-24zM246.3 366.3h24v24h-24zM246.6 363.0h24v24h-24zM246.9 359.7h24v24h-24zM247.1 356.2h24v24h-24zM247.4 352.8h24v24h-24zM247.7 349.5h24v24h-24zM248.0 346.3h24v24h-24zM248.2 343.2h24v24h-24zM248.5 340.3h24v24h-24zM248.8 337.4h24v24h-24zM249.1 334.6h24v24h-24zM249.3 331.9h24v24h-24zM249.6 329.2h24v24h-24zM249.9 326.6h24v24h-24zM250.2 324.0h24v24h-24zM250.4 321.5h24v24h-24zM250.7 319.0h24v24h-24zM251.0 316.5h24v24h-24zM251.3 314.1h24v24h-24zM251.5 311.7h24v24h-24zM251.8 309.3h24v24h-24zM252.1 306.9h24v24h-24zM252.4 304.4h24v24h-24zM252.6 301.9h24v24h-24zM252.9 299.4h24v24h-24zM253.2 297.0h24v24h-24zM253.5 294.7h24v24h-24zM253.7 292.7h24v24h-24zM254.0 290.8h24v24h-24zM254.3 289.1h24v24h-24zM254.6 287.5h24v24h-24zM254.9 286.1h24v24h-24zM255.1 284.7h24v24h-24zM255.4 283.3h24v24h-24zM255.7 282.1h24v24h-24zM256.0 280.8h24v24h-24zM256.2 279.6h24v24h-24zM256.5 278.3h24v24h-24zM256.8 277.1h24v24h-24zM257.1 275.9h24v24h-24zM257.3 274.6h24v24h-24zM257.6 273.4h24v24h-24zM257.9 272.2h24v24h-24zM258.2 271.0h24v24h-24zM258.4 269.9h24v24h-24zM258.7 268.7h24v24h-24zM259.0 267.6h24v24h-24zM259.3 266.5h24v24h-24zM259.5 265.4h24v24h-24zM259.8 264.4h24v24h-24zM260.1 263.4h24v24h-24zM260.4 262.4h24v24h-24zM260.6 261.4h24v24h-24zM260.9 260.5h24v24h-24zM261.2 259.6h24v24h-24zM261.5 258.7h24v24h-24zM261.7 257.9h24v24h-24zM262.0 257.1h24v24h-24zM262.3 256.2h24v24h-24zM262.6 255.4h24v24h-24zM262.8 254.7h24v24h-24zM263.1 253.9h24v24h-24zM263.4 253.2h24v24h-24zM263.7 252.5h24v24h-24zM263.9 251.8h24v24h-24zM264.2 251.1h24v24h-24zM264.5 250.4h24v24h-24zM264.8 249.7h24v24h-24zM265.0 249.1h24v24h-24zM292.6 197.0h24v24h-24zM320.1 172.0h24v24h-24zM347.7 157.4h24v24h-24zM375.2 147.0h24v24h-24zM402.7 141.0h24v24h-24zM430.3 134.1h24v24h-24zM457.8 129.9h24v24h-24zM485.4 125.5h24v24h-24zM512.9 123.3h24v24h-24zM540.4 120.3h24v24h-24zM568.0 116.5h24v24h-24zM595.5 114.7h24v24h-24zM623.1 113.0h24v24h-24zM650.6 110.9h24v24h-24zM678.1 109.9h24v24h-24zM705.7 107.0h24v24h-24zM733.2 106.0h24v24h-24zM760.8 105.0h24v24h-24zM788.3 104.4h24v24h-24zM815.8 102.1h24v24h-24zM843.4 101.7h24v24h-24zM870.9 100.8h24v24h-24zM898.5 99.2h24v24h-24zM926.0 99.9h24v24h-24zM953.5 96.5h24v24h-24zM981.1 96.4h24v24h-24zM981.5 188.7h24v24h-24zM981.5 189.9h24v24h-24zM981.5 191.1h24v24h-24zM981.5 192.3h24v24h-24zM981.5 193.5h24v24h-24zM981.5 194.7h24v24h-24zM981.5 195.9h24v24h-24zM981.5 197.1h24v24h-24zM981.6 198.3h24v24h-24zM981.6 199.5h24v24h-24zM981.6 200.7h24v24h-24zM981.6 201.9h24v24h-24zM981.6 203.1h24v24h-24zM981.7 204.3h24v24h-24zM981.7 205.5h24v24h-24zM981.7 206.7h24v24h-24zM981.7 207.9h24v24h-24zM981.8 209.1h24v24h-24zM981.8 210.3h24v24h-24zM981.8 211.5h24v24h-24zM981.9 212.7h24v24h-24zM981.9 213.9h24v24h-24zM981.9 215.1h24v24h-24zM982.0 216.3h24v24h-24zM982.0 217.5h24v24h-24zM982.0 218.7h24v24h-24zM982.1 219.9h24v24h-24zM982.2 221.1h24v24h-24zM982.3 222.3h24v24h-24zM982.4 223.5h24v24h-24zM982.5 224.7h24v24h-24zM982.6 225.9h24v24h-24zM982.7 227.1h24v24h-24zM982.9 228.3h24v24h-24zM983.0 229.5h24v24h-24zM983.2 230.7h24v24h-24zM983.3 231.8h24v24h-24zM983.5 233.0h24v24h-24zM983.7 234.2h24v24h-24zM983.9 235.4h24v24h-24zM984.2 236.6h24v24h-24zM984.4 237.8h24v24h-24zM984.7 239.0h24v24h-24zM985.0 240.1h24v24h-24zM985.4 241.3h24v24h-24zM985.8 242.4h24v24h-24zM986.2 243.5h24v24h-24zM986.7 244.5h24v24h-24zM987.2 245.6h24v24h-24zM987.9 246.6h24v24h-24zM988.5 247.7h24v24h-24zM989.2 248.7h24v24h-24zM990.0 249.6h24v24h-24zM990.7 250.6h24v24h-24zM991.4 251.5h24v24h-24zM992.2 252.5h24v24h-24zM992.9 253.4h24v24h-24zM993.7 254.3h24v24h-24zM994.5 255.2h24v24h-24zM995.4 256.1h24v24h-24zM996.2 257.0h24v24h-24zM997.1 257.8h24v24h-24zM998.0 258.7h24v24h-24zM998.9 259.4h24v24h-24zM999.8 260.2h24v24h-24zM1000.8 260.9h24v24h-24zM1001.8 261.5h24v24h-24zM1002.8 262.1h24v24h-24zM1003.8 262.7h24v24h-24zM1004.9 263.2h24v24h-24zM1006.0 263.7h24v24h-24zM1007.1 264.2h24v24h-24zM1008.2 264.7h24v24h-24zM1009.3 265.2h24v24h-24zM1010.4 265.7h24v24h-24zM1011.5 266.2h24v24h-24zM1012.6 266.7h24v24h-24zM1013.7 267.2h24v24h-24zM1014.8 267.7h24v24h-24zM1015.9 268.2h24v24h-24zM1017.0 268.6h24v24h-24zM1018.1 269.1h24v24h-24zM1019.2 269.6h24v24h-24zM1020.3 270.0h24v24h-24zM1021.5 270.4h24v24h-24zM1022.6 270.9h24v24h-24zM1023.7 271.3h24v24h-24zM1024.8 271.7h24v24h-24zM1026.0 272.0h24v24h-24zM1027.1 272.4h24v24h-24zM1028.3 272.8h24v24h-24zM1029.4 273.1h24v24h-24zM1030.6 273.4h24v24h-24zM1031.8 273.7h24v24h-24zM1032.9 273.9h24v24h-24zM1034.1 274.2h24v24h-24zM1035.3 274.4h24v24h-24zM1036.5 274.6h24v24h-24zM1037.6 274.8h24v24h-24zM1038.8 275.0h24v24h-24zM1040.0 275.2h24v24h-24zM1041.2 275.4h24v24h-24zM1042.4 275.6h24v24h-24zM1043.6 275.8h24v24h-24zM1044.8 275.9h24v24h-24zM1045.9 276.1h24v24h-24zM1047.1 276.3h24v24h-24zM1048.3 276.6h24v24h-24zM1049.5 276.8h24v24h-24zM1050.7 277.0h24v24h-24zM1051.8 277.3h24v24h-24zM1053.0 277.5h24v24h-24zM1054.2 277.8h24v24h-24zM1055.4 278.0h24v24h-24zM1056.6 278.3h24v24h-24zM1057.7 278.5h24v24h-24zM1058.9 278.7h24v24h-24zM1060.1 278.9h24v24h-24zM1061.3 279.1h24v24h-24zM1062.5 279.3h24v24h-24zM1063.6 279.5h24v24h-24zM1064.8 279.6h24v24h-24zM1066.0 279.7h24v24h-24zM1067.2 279.8h24v24h-24zM1068.4 279.9h24v24h-24zM1069.6 280.0h24v24h-24zM1070.8 280.1h24v24h-24zM1072.0 280.2h24v24h-24zM1073.2 280.3h24v24h-24zM1074.4 280.3h24v24h-24zM1075.6 280.4h24v24h-24zM1076.8 280.5h24v24h-24zM1078.0 280.6h24v24h-24zM1079.2 280.7h24v24h-24zM1080.4 280.8h24v24h-24zM1081.6 281.0h24v24h-24zM1082.8 281.1h24v24h-24zM1084.0 281.3h24v24h-24zM1085.1 281.5h24v24h-24zM1086.3 281.6h24v24h-24zM1087.5 281.8h24v24h-24zM1088.7 282.0h24v24h-24zM1089.9 282.2h24v24h-24zM1091.1 282.4h24v24h-24zM1092.3 282.5h24v24h-24zM1093.5 282.7h24v24h-24zM1094.6 282.8h24v24h-24zM1095.8 283.0h24v24h-24zM1097.0 283.1h24v24h-24zM1098.2 283.2h24v24h-24zM1099.4 283.4h24v24h-24zM1100.6 283.5h24v24h-24zM1101.8 283.6h24v24h-24zM1103.0 283.7h24v24h-24zM1104.2 283.8h24v24h-24zM1105.4 283.9h24v24h-24zM1106.6 284.0h24v24h-24zM1107.8 284.1h24v24h-24zM1109.0 284.2h24v24h-24zM1110.2 284.3h24v24h-24zM1111.4 284.4h24v24h-24zM1112.6 284.5h24v24h-24zM1113.8 284.6h24v24h-24zM1115.0 284.7h24v24h-24zM1116.2 284.8h24v24h-24zM1117.4 284.9h24v24h-24zM1118.5 285.0h24v24h-24zM1119.7 285.0h24v24h-24zM1120.9 285.1h24v24h-24zM1122.1 285.2h24v24h-24zM1123.3 285.4h24v24h-24zM1124.5 285.5h24v24h-24zM1125.7 285.6h24v24h-24zM1126.9 285.7h24v24h-24zM1128.1 285.8h24v24h-24zM1129.3 285.9h24v24h-24zM1130.5 286.0h24v24h-24zM1131.7 286.1h24v24h-24zM1132.9 286.3h24v24h-24zM1134.1 286.4h24v24h-24zM1135.3 286.5h24v24h-24zM1136.5 286.6h24v24h-24zM1137.7 286.7h24v24h-24zM1138.9 286.9h24v24h-24zM1140.1 287.0h24v24h-24zM1141.2 287.1h24v24h-24zM1142.4 287.2h24v24h-24zM1143.6 287.3h24v24h-24zM1144.8 287.4h24v24h-24zM1146.0 287.5h24v24h-24zM1147.2 287.6h24v24h-24zM1148.4 287.7h24v24h-24zM1149.6 287.8h24v24h-24zM1150.8 287.9h24v24h-24zM1152.0 288.0h24v24h-24zM1153.2 288.1h24v24h-24zM1154.4 288.2h24v24h-24zM1155.6 288.3h24v24h-24zM1156.8 288.3h24v24h-24zM1158.0 288.4h24v24h-24zM1159.2 288.5h24v24h-24zM1160.4 288.6h24v24h-24zM1161.6 288.7h24v24h-24zM1162.8 288.7h24v24h-24zM1164.0 288.8h24v24h-24zM1165.2 288.9h24v24h-24zM1166.4 289.0h24v24h-24zM1167.6 289.1h24v24h-24zM1168.8 289.2h24v24h-24zM1170.0 289.3h24v24h-24zM1171.2 289.4h24v24h-24zM1172.4 289.5h24v24h-24zM1173.5 289.7h24v24h-24zM1174.7 289.8h24v24h-24zM1175.9 290.0h24v24h-24zM1177.1 290.1h24v24h-24zM1178.3 290.3h24v24h-24zM1179.5 290.4h24v24h-24zM1180.7 290.6h24v24h-24zM1181.9 290.7h24v24h-24zM1183.1 290.9h24v24h-24zM1184.3 291.0h24v24h-24zM1185.5 291.1h24v24h-24zM1186.7 291.2h24v24h-24zM1187.9 291.3h24v24h-24zM1189.1 291.3h24v24h-24zM1190.2 291.4h24v24h-24zM1191.4 291.5h24v24h-24zM1192.6 291.5h24v24h-24zM1193.8 291.6h24v24h-24zM1195.0 291.7h24v24h-24zM1196.2 291.7h24v24h-24zM1197.4 291.8h24v24h-24zM1198.6 291.9h24v24h-24zM1199.8 291.9h24v24h-24zM1201.0 292.0h24v24h-24zM1202.2 292.0h24v24h-24zM1203.4 292.1h24v24h-24zM1204.6 292.1h24v24h-24zM1205.8 292.2h24v24h-24zM1207.0 292.2h24v24h-24zM1208.2 292.3h24v24h-24zM1209.4 292.3h24v24h-24zM1210.6 292.4h24v24h-24zM1211.8 292.4h24v24h-24zM1213.0 292.5h24v24h-24zM1214.2 292.5h24v24h-24zM1215.4 292.6h24v24h-24zM1216.6 292.6h24v24h-24zM1217.8 292.6h24v24h-24zM1219.0 292.7h24v24h-24zM1220.2 292.7h24v24h-24zM1221.4 292.8h24v24h-24zM1222.6 292.8h24v24h-24zM1223.8 292.8h24v24h-24zM1225.0 292.9h24v24h-24zM1226.2 292.9h24v24h-24zM1227.4 292.9h24v24h-24zM1228.6 293.0h24v24h-24zM1229.8 293.0h24v24h-24zM1231.0 293.1h24v24h-24zM1232.2 293.1h24v24h-24zM1233.4 293.1h24v24h-24zM1234.6 293.2h24v24h-24zM1235.8 293.2h24v24h-24zM1237.0 293.2h24v24h-24zM1238.2 293.3h24v24h-24zM1239.4 293.3h24v24h-24zM1240.6 293.3h24v24h-24zM1241.8 293.4h24v24h-24zM1243.0 293.4h24v24h-24zM1244.2 293.4h24v24h-24zM1245.4 293.4h24v24h-24zM1246.6 293.5h24v24h-24zM1247.8 293.5h24v24h-24zM1249.0 293.5h24v24h-24zM1250.2 293.6h24v24h-24zM1251.4 293.6h24v24h-24zM1252.6 293.6h24v24h-24zM1253.8 293.6h24v24h-24zM1255.0 293.7h24v24h-24zM1256.2 293.7h24v24h-24zM1257.4 293.7h24v24h-24zM1258.6 293.8h24v24h-24zM1259.8 293.8h24v24h-24zM1261.0 293.8h24v24h-24zM1262.2 293.9h24v24h-24zM1263.4 293.9h24v24h-24zM1264.6 293.9h24v24h-24zM1265.8 294.0h24v24h-24zM1267.0 294.0h24v24h-24zM1268.2 294.0h24v24h-24zM1269.4 294.1h24v24h-24zM1270.6 294.1h24v24h-24zM1271.8 294.2h24v24h-24zM1273.0 294.2h24v24h-24zM1274.2 294.2h24v24h-24zM1275.4 294.3h24v24h-24zM1276.6 294.3h24v24h-24zM1277.8 294.4h24v24h-24zM1279.0 294.4h24v24h-24zM1280.2 294.4h24v24h-24zM1281.4 294.5h24v24h-24zM1282.6 294.5h24v24h-24zM1283.8 294.6h24v24h-24zM1285.0 294.6h24v24h-24zM1286.2 294.6h24v24h-24zM1287.4 294.7h24v24h-24zM1288.6 294.7h24v24h-24zM1289.8 294.8h24v24h-24zM1291.0 294.8h24v24h-24zM1292.2 294.9h24v24h-24zM1293.4 294.9h24v24h-24zM1294.6 294.9h24v24h-24zM1295.8 295.0h24v24h-24zM1297.0 295.0h24v24h-24zM1298.2 295.1h24v24h-24zM1299.4 295.1h24v24h-24zM1300.6 295.2h24v24h-24zM1301.8 295.2h24v24h-24zM1303.0 295.2h24v24h-24zM1304.2 295.3h24v24h-24zM1305.4 295.3h24v24h-24zM1306.6 295.4h24v24h-24zM1307.8 295.4h24v24h-24zM1309.0 295.5h24v24h-24zM1310.2 295.5h24v24h-24zM1311.4 295.6h24v24h-24zM1312.6 295.6h24v24h-24zM1313.8 295.6h24v24h-24zM1315.0 295.7h24v24h-24zM1316.2 295.7h24v24h-24zM1317.4 295.8h24v24h-24zM1318.6 295.8h24v24h-24zM1319.8 295.9h24v24h-24zM1321.0 295.9h24v24h-24zM1322.2 295.9h24v24h-24zM1323.4 296.0h24v24h-24zM1324.6 296.0h24v24h-24zM1325.8 296.1h24v24h-24zM1327.0 296.1h24v24h-24zM1328.2 296.2h24v24h-24zM1329.4 296.2h24v24h-24zM1330.6 296.2h24v24h-24zM1331.8 296.3h24v24h-24zM1333.0 296.3h24v24h-24zM1334.2 296.4h24v24h-24zM1335.4 296.4h24v24h-24zM1336.6 296.5h24v24h-24zM1337.8 296.5h24v24h-24zM1339.0 296.5h24v24h-24zM1340.2 296.6h24v24h-24zM1341.4 296.6h24v24h-24zM1342.6 296.7h24v24h-24zM1343.8 296.7h24v24h-24zM1345.0 296.7h24v24h-24zM1346.2 296.8h24v24h-24zM1347.4 296.8h24v24h-24zM1348.6 296.9h24v24h-24zM1349.8 296.9h24v24h-24zM1351.0 296.9h24v24h-24zM1352.2 297.0h24v24h-24zM1353.4 297.0h24v24h-24zM1354.6 297.1h24v24h-24zM1355.8 297.1h24v24h-24zM1357.0 297.1h24v24h-24zM1358.2 297.2h24v24h-24zM1359.4 297.2h24v24h-24zM1360.6 297.3h24v24h-24zM1361.7 297.3h24v24h-24zM1362.9 297.3h24v24h-24zM1364.1 297.4h24v24h-24zM1365.3 297.4h24v24h-24zM1366.5 297.5h24v24h-24zM1367.7 297.5h24v24h-24zM1368.9 297.5h24v24h-24zM1370.1 297.6h24v24h-24zM1371.3 297.6h24v24h-24zM1372.5 297.7h24v24h-24zM1373.7 297.7h24v24h-24zM1374.9 297.7h24v24h-24zM1376.1 297.8h24v24h-24zM1377.3 297.8h24v24h-24zM1378.5 297.9h24v24h-24zM1379.7 297.9h24v24h-24zM1380.9 297.9h24v24h-24zM1382.1 298.0h24v24h-24zM1383.3 298.0h24v24h-24zM1384.5 298.0h24v24h-24zM1385.7 298.1h24v24h-24zM1386.9 298.1h24v24h-24zM1388.1 298.2h24v24h-24zM1389.3 298.2h24v24h-24zM1390.5 298.2h24v24h-24zM1391.7 298.3h24v24h-24zM1392.9 298.3h24v24h-24zM1394.1 298.4h24v24h-24zM1395.3 298.4h24v24h-24zM1396.5 298.4h24v24h-24zM1397.7 298.5h24v24h-24zM1398.9 298.5h24v24h-24zM1400.1 298.5h24v24h-24zM1401.3 298.6h24v24h-24zM1402.5 298.6h24v24h-24zM1403.7 298.7h24v24h-24zM1404.9 298.7h24v24h-24zM1406.1 298.7h24v24h-24zM1407.3 298.8h24v24h-24zM1408.5 298.8h24v24h-24zM1409.7 298.9h24v24h-24zM1410.9 298.9h24v24h-24zM1412.1 298.9h24v24h-24zM1413.3 299.0h24v24h-24zM1414.5 299.0h24v24h-24zM1415.7 299.0h24v24h-24zM1416.9 299.1h24v24h-24zM1418.1 299.1h24v24h-24zM1419.3 299.2h24v24h-24zM1420.5 299.2h24v24h-24zM1421.7 299.2h24v24h-24zM1422.9 299.3h24v24h-24zM1424.1 299.3h24v24h-24zM1425.3 299.3h24v24h-24zM1426.5 299.4h24v24h-24zM1427.7 299.4h24v24h-24zM1428.9 299.5h24v24h-24zM1430.1 299.5h24v24h-24zM1431.3 299.5h24v24h-24zM1432.5 299.6h24v24h-24zM1433.7 299.6h24v24h-24zM1434.9 299.6h24v24h-24zM1436.1 299.7h24v24h-24zM1437.3 299.7h24v24h-24zM1438.5 299.7h24v24h-24zM1439.7 299.8h24v24h-24zM1440.9 299.8h24v24h-24zM1442.1 299.9h24v24h-24zM1443.3 299.9h24v24h-24zM1444.5 299.9h24v24h-24zM1445.7 300.0h24v24h-24zM1446.9 300.0h24v24h-24zM1448.1 300.0h24v24h-24zM1449.3 300.1h24v24h-24zM1450.5 300.1h24v24h-24zM1451.7 300.1h24v24h-24zM1452.9 300.2h24v24h-24zM1454.1 300.2h24v24h-24zM1455.3 300.3h24v24h-24zM1456.5 300.3h24v24h-24zM1457.7 300.3h24v24h-24zM1458.9 300.4h24v24h-24zM1460.1 300.4h24v24h-24zM1461.3 300.4h24v24h-24zM1462.5 300.5h24v24h-24zM1463.7 300.5h24v24h-24zM1464.9 300.5h24v24h-24zM1466.1 300.6h24v24h-24zM1467.3 300.6h24v24h-24zM1468.5 300.7h24v24h-24zM1469.7 300.7h24v24h-24zM1470.9 300.7h24v24h-24zM1472.1 300.8h24v24h-24zM1473.3 300.8h24v24h-24zM1474.5 300.8h24v24h-24zM1475.7 300.9h24v24h-24zM1476.9 300.9h24v24h-24zM1477.0 300.9h24v24h-24z" fill="#026202"/>
<path d="M249.9 684.2L249.9 677.8M286.0 383.0L295.6 365.7M317.4 336.7L319.3 334.8M993.2 227.4L993.4 272.3" fill="none" stroke="#00ff00" stroke-width="1.25"/>
<path d="M291.2 349.8a13.4 13.4 0 1 0 26.8 0a13.4 13.4 0 1 0 -26.8 0zM318.7 321.7a13.4 13.4 0 1 0 26.8 0a13.4 13.4 0 1 0 -26.8 0zM346.3 304.5a13.4 13.4 0 1 0 26.8 0a13.4 13.4 0 1 0 -26.8 0zM373.8 291.3a13.4 13.4 0 1 0 26.8 0a13.4 13.4 0 1 0 -26.8 0zM401.3 281.0a13.4 13.4 0 1 0 26.8 0a13.4 13.4 0 1 0 -26.8 0zM428.9 273.2a13.4 13.4 0 1 0 26.8 0a13.4 13.4 0 1 0 -26.8 0zM456.4 264.6a13.4 13.4 0 1 0 26.8 0a13.4 13.4 0 1 0 -26.8 0zM484.0 258.5a13.4 13.4 0 1 0 26.8 0a13.4 13.4 0 1 0 -26.8 0zM511.5 254.5a13.4 13.4 0 1 0 26.8 0a13.4 13.4 0 1 0 -26.8 0zM539.0 249.5a13.4 13.4 0 1 0 26.8 0a13.4 13.4 0 1 0 -26.8 0zM566.6 244.5a13.4 13.4 0 1 0 26.8 0a13.4 13.4 0 1 0 -26.8 0zM594.1 240.4a13.4 13.4 0 1 0 26.8 0a13.4 13.4 0 1 0 -26.8 0zM621.7 237.3a13.4 13.4 0 1 0 26.8 0a13.4 13.4 0 1 0 -26.8 0zM649.2 234.2a13.4 13.4 0 1 0 26.8 0a13.4 13.4 0 1 0 -26.8 0zM676.7 231.5a13.4 13.4 0 1 0 26.8 0a13.4 13.4 0 1 0 -26.8 0zM704.3 229.2a13.4 13.4 0 1 0 26.8 0a13.4 13.4 0 1 0 -26.8 0zM731.8 226.3a13.4 13.4 0 1 0 26.8 0a13.4 13.4 0 1 0 -26.8 0zM759.4 224.5a13.4 13.4 0 1 0 26.8 0a13.4 13.4 0 1 0 -26.8 0zM786.9 222.4a13.4 13.4 0 1 0 26.8 0a13.4 13.4 0 1 0 -26.8 0zM814.4 219.8a13.4 13.4 0 1 0 26.8 0a13.4 13.4 0 1 0 -26.8 0zM842.0 217.3a13.4 13.4 0 1 0 26.8 0a13.4 13.4 0 1 0 -26.8 0zM869.5 216.6a13.4 13.4 0 1 0 26.8 0a13.4 13.4 0 1 0 -26.8 0zM897.1 214.1a13.4 13.4 0 1 0 26.8 0a13.4 13.4 0 1 0 -26.8 0zM924.6 211.8a13.4 13.4 0 1 0 26.8 0a13.4 13.4 0 1 0 -26.8 0zM952.1 210.4a13.4 13.4 0 1 0 26.8 0a13.4 13.4 0 1 0 -26.8 0zM979.7 209.1a13.4 13.4 0 1 0 26.8 0a13.4 13.4 0 1 0 -26.8 0z" fill="#00ff00"/>
<path d="M236.4 702.5a13.4 13.4 0 1 0 26.8 0a13.4 13.4 0 1 0 -26.8 0zM236.7 659.5a13.4 13.4 0 1 0 26.8 0a13.4 13.4 0 1 0 -26.8 0zM236.9 632.5a13.4 13.4 0 1 0 26.8 0a13.4 13.4 0 1 0 -26.8 0zM237.2 615.7a13.4 13.4 0 1 0 26.8 0a13.4 13.4 0 1 0 -26.8 0zM237.5 601.7a13.4 13.4 0 1 0 26.8 0a13.4 13.4 0 1 0 -26.8 0zM237.8 587.3a13.4 13.4 0 1 0 26.8 0a13.4 13.4 0 1 0 -26.8 0zM238.0 574.0a13.4 13.4 0 1 0 26.8 0a13.4 13.4 0 1 0 -26.8 0zM238.3 563.1a13.4 13.4 0 1 0 26.8 0a13.4 13.4 0 1 0 -26.8 0zM238.6 554.4a13.4 13.4 0 1 0 26.8 0a13.4 13.4 0 1 0 -26.8 0zM238.9 546.9a13.4 13.4 0 1 0 26.8 0a13.4 13.4 0 1 0 -26.8 0zM239.1 540.3a13.4 13.4 0 1 0 26.8 0a13.4 13.4 0 1 0 -26.8 0zM239.4 534.4a13.4 13.4 0 1 0 26.8 0a13.4 13.4 0 1 0 -26.8 0zM239.7 529.0a13.4 13.4 0 1 0 26.8 0a13.4 13.4 0 1 0 -26.8 0zM240.0 523.8a13.4 13.4 0 1 0 26.8 0a13.4 13.4 0 1 0 -26.8 0zM240.2 519.0a13.4 13.4 0 1 0 26.8 0a13.4 13.4 0 1 0 -26.8 0zM240.5 514.8a13.4 13.4 0 1 0 26.8 0a13.4 13.4 0 1 0 -26.8 0zM240.8 511.4a13.4 13.4 0 1 0 26.8 0a13.4 13.4 0 1 0 -26.8 0zM241.1 508.7a13.4 13.4 0 1 0 26.8 0a13.4 13.4 0 1 0 -26.8 0zM241.3 506.6a13.4 13.4 0 1 0 26.8 0a13.4 13.4 0 1 0 -26.8 0zM241.6 504.7a13.4 13.4 0 1 0 26.8 0a13.4 13.4 0 1 0 -26.8 0zM241.9 503.0a13.4 13.4 0 1 0 26.8 0a13.4 13.4 0 1 0 -26.8 0zM242.2 501.2a13.4 13.4 0 1 0 26.8 0a13.4 13.4 0 1 0 -26.8 0zM242.4 499.3a13.4 13.4 0 1 0 26.8 0a13.4 13.4 0 1 0 -26.8 0zM242.7 497.2a13.4 13.4 0 1 0 26.8 0a13.4 13.4 0 1 0 -26.8 0zM243.0 494.8a13.4 13.4 0 1 0 26.8 0a13.4 13.4 0 1 0 -26.8 0zM243.3 492.4a13.4 13.4 0 1 0 26.8 0a13.4 13.4 0 1 0 -26.8 0zM243.5 489.9a13.4 13.4 0 1 0 26.8 0a13.4 13.4 0 1 0 -26.8 0zM243.8 487.4a13.4 13.4 0 1 0 26.8 0a13.4 13.4 0 1 0 -26.8 0zM244.1 485.1a13.4 13.4 0 1 0 26.8 0a13.4 13.4 0 1 0 -26.8 0zM244.4 482.9a13.4 13.4 0 1 0 26.8 0a13.4 13.4 0 1 0 -26.8 0zM244.6 480.7a13.4 13.4 0 1 0 26.8 0a13.4 13.4 0 1 0 -26.8 0zM244.9 478.7a13.4 13.4 0 1 0 26.8 0a13.4 13.4 0 1 0 -26.8 0zM245.2 476.7a13.4 13.4 0 1 0 26.8 0a13.4 13.4 0 1 0 -26.8 0zM245.5 474.7a13.4 13.4 0 1 0 26.8 0a13.4 13.4 0 1 0 -26.8 0zM245.7 472.8a13.4 13.4 0 1 0 26.8 0a13.4 13.4 0 1 0 -26.8 0zM246.0 470.9a13.4 13.4 0 1 0 26.8 0a13.4 13.4 0 1 0 -26.8 0zM246.3 469.0a13.4 13.4 0 1 0 26.8 0a13.4 13.4 0 1 0 -26.8 0zM246.6 467.2a13.4 13.4 0 1 0 26.8 0a13.4 13.4 0 1 0 -26.8 0zM246.8 465.3a13.4 13.4 0 1 0 26.8 0a13.4 13.4 0 1 0 -26.8 0zM247.1 463.5a13.4 13.4 0 1 0 26.8 0a13.4 13.4 0 1 0 -26.8 0zM247.4 461.7a13.4 13.4 0 1 0 26.8 0a13.4 13.4 0 1 0 -26.8 0zM247.7 460.0a13.4 13.4 0 1 0 26.8 0a13.4 13.4 0 1 0 -26.8 0zM247.9 458.3a13.4 13.4 0 1 0 26.8 0a13.4 13.4 0 1 0 -26.8 0zM248.2 456.7a13.4 13.4 0 1 0 26.8 0a13.4 13.4 0 1 0 -26.8 0zM248.5 455.2a13.4 13.4 0 1 0 26.8 0a13.4 13.4 0 1 0 -26.8 0zM248.8 453.8a13.4 13.4 0 1 0 26.8 0a13.4 13.4 0 1 0 -26.8 0zM249.0 452.4a13.4 13.4 0 1 0 26.8 0a13.4 13.4 0 1 0 -26.8 0zM249.3 451.0a13.4 13.4 0 1 0 26.8 0a13.4 13.4 0 1 0 -26.8 0zM249.6 449.7a13.4 13.4 0 1 0 26.8 0a13.4 13.4 0 1 0 -26.8 0zM249.9 448.4a13.4 13.4 0 1 0 26.8 0a13.4 13.4 0 1 0 -26.8 0zM250.1 447.1a13.4 13.4 0 1 0 26.8 0a13.4 13.4 0 1 0 -26.8 0zM250.4 445.9a13.4 13.4 0 1 0 26.8 0a13.4 13.4 0 1 0 -26.8 0zM250.7 444.7a13.4 13.4 0 1 0 26.8 0a13.4 13.4 0 1 0 -26.8 0zM251.0 443.5a13.4 13.4 0 1 0 26.8 0a13.4 13.4 0 1 0 -26.8 0zM251.2 442.3a13.4 13.4 0 1 0 26.8 0a13.4 13.4 0 1 0 -26.8 0zM251.5 441.2a13.4 13.4 0 1 0 26.8 0a13.4 13.4 0 1 0 -26.8 0zM251.8 440.0a13.4 13.4 0 1 0 26.8 0a13.4 13.4 0 1 0 -26.8 0zM252.1 438.9a13.4 13.4 0 1 0 26.8 0a13.4 13.4 0 1 0 -26.8 0zM252.3 437.8a13.4 13.4 0 1 0 26.8 0a13.4 13.4 0 1 0 -26.8 0zM252.6 436.7a13.4 13.4 0 1 0 26.8 0a13.4 13.4 0 1 0 -26.8 0zM252.9 435.7a13.4 13.4 0 1 0 26.8 0a13.4 13.4 0 1 0 -26.8 0zM253.2 434.6a13.4 13.4 0 1 0 26.8 0a13.4 13.4 0 1 0 -26.8 0zM253.5 433.6a13.4 13.4 0 1 0 26.8 0a13.4 13.4 0 1 0 -26.8 0zM253.7 432.5a13.4 13.4 0 1 0 26.8 0a13.4 13.4 0 1 0 -26.8 0zM254.0 431.5a13.4 13.4 0 1 0 26.8 0a13.4 13.4 0 1 0 -26.8 0zM254.3 430.5a13.4 13.4 0 1 0 26.8 0a13.4 13.4 0 1 0 -26.8 0zM254.6 429.5a13.4 13.4 0 1 0 26.8 0a13.4 13.4 0 1 0 -26.8 0zM254.8 428.5a13.4 13.4 0 1 0 26.8 0a13.4 13.4 0 1 0 -26.8 0zM255.1 427.5a13.4 13.4 0 1 0 26.8 0a13.4 13.4 0 1 0 -26.8 0zM255.4 426.5a13.4 13.4 0 1 0 26.8 0a13.4 13.4 0 1 0 -26.8 0zM255.7 425.5a13.4 13.4 0 1 0 26.8 0a13.4 13.4 0 1 0 -26.8 0zM255.9 424.5a13.4 13.4 0 1 0 26.8 0a13.4 13.4 0 1 0 -26.8 0zM256.2 423.6a13.4 13.4 0 1 0 26.8 0a13.4 13.4 0 1 0 -26.8 0zM256.5 422.6a13.4 13.4 0 1 0 26.8 0a13.4 13.4 0 1 0 -26.8 0zM256.8 421.6a13.4 13.4 0 1 0 26.8 0a13.4 13.4 0 1 0 -26.8 0zM257.0 420.7a13.4 13.4 0 1 0 26.8 0a13.4 13.4 0 1 0 -26.8 0zM257.3 419.8a13.4 13.4 0 1 0 26.8 0a13.4 13.4 0 1 0 -26.8 0zM257.6 418.8a13.4 13.4 0 1 0 26.8 0a13.4 13.4 0 1 0 -26.8 0zM257.9 417.9a13.4 13.4 0 1 0 26.8 0a13.4 13.4 0 1 0 -26.8 0zM258.1 417.0a13.4 13.4 0 1 0 26.8 0a13.4 13.4 0 1 0 -26.8 0zM258.4 416.0a13.4 13.4 0 1 0 26.8 0a13.4 13.4 0 1 0 -26.8 0zM258.7 415.1a13.4 13.4 0 1 0 26.8 0a13.4 13.4 0 1 0 -26.8 0zM259.0 414.2a13.4 13.4 0 1 0 26.8 0a13.4 13.4 0 1 0 -26.8 0zM259.2 413.3a13.4 13.4 0 1 0 26.8 0a13.4 13.4 0 1 0 -26.8 0zM259.5 412.3a13.4 13.4 0 1 0 26.8 0a13.4 13.4 0 1 0 -26.8 0zM259.8 411.4a13.4 13.4 0 1 0 26.8 0a13.4 13.4 0 1 0 -26.8 0zM260.1 410.5a13.4 13.4 0 1 0 26.8 0a13.4 13.4 0 1 0 -26.8 0zM260.3 409.6a13.4 13.4 0 1 0 26.8 0a13.4 13.4 0 1 0 -26.8 0zM260.6 408.7a13.4 13.4 0 1 0 26.8 0a13.4 13.4 0 1 0 -26.8 0zM260.9 407.8a13.4 13.4 0 1 0 26.8 0a13.4 13.4 0 1 0 -26.8 0zM261.2 406.9a13.4 13.4 0 1 0 26.8 0a13.4 13.4 0 1 0 -26.8 0zM261.4 406.0a13.4 13.4 0 1 0 26.8 0a13.4 13.4 0 1 0 -26.8 0zM261.7 405.1a13.4 13.4 0 1 0 26.8 0a13.4 13.4 0 1 0 -26.8 0zM262.0 404.2a13.4 13.4 0 1 0 26.8 0a13.4 13.4 0 1 0 -26.8 0zM262.3 403.4a13.4 13.4 0 1 0 26.8 0a13.4 13.4 0 1 0 -26.8 0zM262.5 402.5a13.4 13.4 0 1 0 26.8 0a13.4 13.4 0 1 0 -26.8 0zM262.8 401.6a13.4 13.4 0 1 0 26.8 0a13.4 13.4 0 1 0 -26.8 0zM263.1 400.7a13.4 13.4 0 1 0 26.8 0a13.4 13.4 0 1 0 -26.8 0zM263.4 399.9a13.4 13.4 0 1 0 26.8 0a13.4 13.4 0 1 0 -26.8 0zM263.6 399.0a13.4 13.4 0 1 0 26.8 0a13.4 13.4 0 1 0 -26.8 0z" fill="#00ff00"/>
<path d="M993.5 290.6L993.5 291.8L993.5 293.0L993.5 294.2L993.5 295.4L993.5 296.6L993.5 297.8L993.5 299.0L993.5 300.2L993.5 301.4L993.5 302.6L993.5 303.8L993.5 305.0L993.5 306.2L993.6 307.4L993.6 308.6L993.6 309.8L993.6 311.0L993.6 312.2L993.6 313.4L993.6 314.6L993.6 315.8L993.6 317.0L993.6 318.2L993.7 319.4L993.7 320.6L993.7 321.8L993.7 323.0L993.7 324.2L993.7 325.4L993.7 326.6L993.8 327.8L993.8 329.0L993.8 330.2L993.8 331.4L993.9 332.6L993.9 333.8L994.0 335.0L994.1 336.2L994.2 337.4L994.3 338.6L994.4 339.8L994.5 341.0L994.7 342.2L994.8 343.4L994.9 344.6L995.1 345.7L995.3 346.9L995.6 348.1L995.8 349.3L996.1 350.4L996.5 351.6L996.9 352.8L997.2 353.9L997.6 355.0L998.1 356.1L998.5 357.2L999.0 358.3L999.5 359.4L1000.1 360.5L1000.7 361.6L1001.3 362.6L1002.0 363.6L1002.7 364.6L1003.4 365.5L1004.1 366.4L1004.9 367.4L1005.8 368.2L1006.6 369.1L1007.5 370.0L1008.4 370.7L1009.3 371.5L1010.3 372.2L1011.2 372.9L1012.2 373.5L1013.3 374.1L1014.3 374.7L1015.4 375.3L1016.5 375.8L1017.6 376.4L1018.7 376.9L1019.8 377.4L1020.9 377.9L1022.0 378.3L1023.1 378.8L1024.2 379.2L1025.3 379.6L1026.5 380.0L1027.6 380.4L1028.7 380.8L1029.9 381.2L1031.0 381.7L1032.1 382.1L1033.2 382.5L1034.4 382.9L1035.5 383.3L1036.6 383.7L1037.8 384.1L1038.9 384.5L1040.0 384.9L1041.2 385.3L1042.3 385.6L1043.4 386.0L1044.6 386.4L1045.7 386.7L1046.9 387.1L1048.0 387.4L1049.2 387.8L1050.3 388.1L1051.5 388.4L1052.6 388.8L1053.8 389.1L1055.0 389.4L1056.1 389.7L1057.3 390.0L1058.5 390.3L1059.6 390.5L1060.8 390.8L1062.0 391.0L1063.1 391.2L1064.3 391.5L1065.5 391.7L1066.7 391.9L1067.9 392.1L1069.1 392.3L1070.2 392.5L1071.4 392.7L1072.6 392.9L1073.8 393.1L1075.0 393.3L1076.2 393.5L1077.3 393.7L1078.5 393.9L1079.7 394.0L1080.9 394.2L1082.1 394.4L1083.3 394.6L1084.5 394.7L1085.7 394.9L1086.8 395.1L1088.0 395.2L1089.2 395.4L1090.4 395.6L1091.6 395.7L1092.8 395.9L1094.0 396.1L1095.2 396.2L1096.4 396.4L1097.5 396.5L1098.7 396.7L1099.9 396.9L1101.1 397.0L1102.3 397.2L1103.5 397.3L1104.7 397.5L1105.9 397.6L1107.1 397.8L1108.3 398.0L1109.4 398.1L1110.6 398.3L1111.8 398.4L1113.0 398.6L1114.2 398.7L1115.4 398.9L1116.6 399.1L1117.8 399.2L1119.0 399.4L1120.2 399.5L1121.3 399.7L1122.5 399.8L1123.7 400.0L1124.9 400.1L1126.1 400.3L1127.3 400.4L1128.5 400.6L1129.7 400.7L1130.9 400.9L1132.1 401.0L1133.2 401.2L1134.4 401.3L1135.6 401.5L1136.8 401.6L1138.0 401.7L1139.2 401.9L1140.4 402.0L1141.6 402.2L1142.8 402.3L1144.0 402.4L1145.2 402.6L1146.4 402.7L1147.6 402.8L1148.7 403.0L1149.9 403.1L1151.1 403.2L1152.3 403.4L1153.5 403.5L1154.7 403.6L1155.9 403.7L1157.1 403.9L1158.3 404.0L1159.5 404.1L1160.7 404.3L1161.9 404.4L1163.1 404.5L1164.3 404.6L1165.4 404.8L1166.6 404.9L1167.8 405.0L1169.0 405.1L1170.2 405.2L1171.4 405.4L1172.6 405.5L1173.8 405.6L1175.0 405.7L1176.2 405.8L1177.4 405.9L1178.6 406.1L1179.8 406.2L1181.0 406.3L1182.2 406.4L1183.4 406.5L1184.6 406.6L1185.8 406.7L1187.0 406.8L1188.1 406.9L1189.3 407.0L1190.5 407.1L1191.7 407.2L1192.9 407.3L1194.1 407.4L1195.3 407.5L1196.5 407.6L1197.7 407.7L1198.9 407.8L1200.1 407.9L1201.3 408.0L1202.5 408.1L1203.7 408.2L1204.9 408.3L1206.1 408.3L1207.3 408.4L1208.5 408.5L1209.7 408.6L1210.9 408.7L1212.1 408.8L1213.3 408.9L1214.5 408.9L1215.7 409.0L1216.9 409.1L1218.1 409.2L1219.3 409.2L1220.5 409.3L1221.7 409.4L1222.9 409.5L1224.1 409.5L1225.2 409.6L1226.4 409.7L1227.6 409.8L1228.8 409.8L1230.0 409.9L1231.2 410.0L1232.4 410.0L1233.6 410.1L1234.8 410.1L1236.0 410.2L1237.2 410.3L1238.4 410.3L1239.6 410.4L1240.8 410.4L1242.0 410.5L1243.2 410.5L1244.4 410.6L1245.6 410.6L1246.8 410.7L1248.0 410.7L1249.2 410.8L1250.4 410.8L1251.6 410.9L1252.8 410.9L1254.0 410.9L1255.2 411.0L1256.4 411.0L1257.6 411.1L1258.8 411.1L1260.0 411.2L1261.2 411.3L1262.4 411.3L1263.6 411.4L1264.8 411.4L1266.0 411.5L1267.2 411.5L1268.4 411.6L1269.6 411.7L1270.8 411.7L1272.0 411.8L1273.2 411.9L1274.4 411.9L1275.6 412.0L1276.8 412.1L1278.0 412.1L1279.2 412.2L1280.4 412.3L1281.6 412.3L1282.8 412.4L1284.0 412.5L1285.2 412.5L1286.4 412.6L1287.6 412.7L1288.8 412.7L1290.0 412.8L1291.2 412.9L1292.4 412.9L1293.6 413.0L1294.8 413.1L1296.0 413.2L1297.2 413.2L1298.4 413.3L1299.5 413.4L1300.7 413.5L1301.9 413.5L1303.1 413.6L1304.3 413.7L1305.5 413.8L1306.7 413.8L1307.9 413.9L1309.1 414.0L1310.3 414.1L1311.5 414.1L1312.7 414.2L1313.9 414.3L1315.1 414.4L1316.3 414.4L1317.5 414.5L1318.7 414.6L1319.9 414.7L1321.1 414.7L1322.3 414.8L1323.5 414.9L1324.7 415.0L1325.9 415.0L1327.1 415.1L1328.3 415.2L1329.5 415.3L1330.7 415.3L1331.9 415.4L1333.1 415.5L1334.3 415.6L1335.5 415.6L1336.7 415.7L1337.9 415.8L1339.1 415.9L1340.3 415.9L1341.5 416.0L1342.7 416.1L1343.9 416.1L1345.1 416.2L1346.3 416.3L1347.5 416.4L1348.7 416.4L1349.9 416.5L1351.1 416.6L1352.3 416.6L1353.5 416.7L1354.6 416.8L1355.8 416.8L1357.0 416.9L1358.2 417.0L1359.4 417.0L1360.6 417.1L1361.8 417.2L1363.0 417.2L1364.2 417.3L1365.4 417.4L1366.6 417.5L1367.8 417.5L1369.0 417.6L1370.2 417.7L1371.4 417.7L1372.6 417.8L1373.8 417.9L1375.0 417.9L1376.2 418.0L1377.4 418.1L1378.6 418.1L1379.8 418.2L1381.0 418.3L1382.2 418.3L1383.4 418.4L1384.6 418.5L1385.8 418.5L1387.0 418.6L1388.2 418.7L1389.4 418.7L1390.6 418.8L1391.8 418.9L1393.0 418.9L1394.2 419.0L1395.4 419.1L1396.6 419.1L1397.8 419.2L1399.0 419.3L1400.2 419.4L1401.4 419.4L1402.6 419.5L1403.8 419.6L1405.0 419.6L1406.2 419.7L1407.4 419.8L1408.6 419.8L1409.8 419.9L1411.0 420.0L1412.2 420.0L1413.4 420.1L1414.6 420.2L1415.7 420.3L1416.9 420.3L1418.1 420.4L1419.3 420.5L1420.5 420.5L1421.7 420.6L1422.9 420.7L1424.1 420.7L1425.3 420.8L1426.5 420.9L1427.7 421.0L1428.9 421.0L1430.1 421.1L1431.3 421.2L1432.5 421.2L1433.7 421.3L1434.9 421.4L1436.1 421.5L1437.3 421.5L1438.5 421.6L1439.7 421.7L1440.9 421.7L1442.1 421.8L1443.3 421.9L1444.5 422.0L1445.7 422.0L1446.9 422.1L1448.1 422.2L1449.3 422.3L1450.5 422.3L1451.7 422.4L1452.9 422.5L1454.1 422.5L1455.3 422.6L1456.5 422.7L1457.7 422.8L1458.9 422.8L1460.1 422.9L1461.3 423.0L1462.5 423.1L1463.7 423.1L1464.9 423.2L1466.1 423.3L1467.3 423.3L1468.5 423.4L1469.7 423.5L1470.8 423.6L1472.0 423.6L1473.2 423.7L1474.4 423.8L1475.6 423.9L1476.8 423.9L1478.0 424.0L1479.2 424.1L1480.4 424.2L1481.6 424.2L1482.8 424.3L1484.0 424.4L1485.2 424.5L1486.4 424.5L1487.6 424.6L1488.8 424.7L1489.0 424.7" fill="none" stroke="#00ff00" stroke-width="26.8" stroke-linecap="round" stroke-linejoin="round"/>
</g>
<g font-family="'Liberation Serif', serif" font-size="75" fill="#000">
<text x="213.3" y="1212.5" text-anchor="end">0.1</text>
<text x="213.3" y="1102.4" text-anchor="end">0.2</text>
<text x="213.3" y="992.2" text-anchor="end">0.3</text>
<text x="213.3" y="882.1" text-anchor="end">0.4</text>
<text x="213.3" y="771.9" text-anchor="end">0.5</text>
<text x="213.3" y="661.8" text-anchor="end">0.6</text>
<text x="213.3" y="551.6" text-anchor="end">0.7</text>
<text x="213.3" y="441.5" text-anchor="end">0.8</text>
<text x="213.3" y="331.3" text-anchor="end">0.9</text>
<text x="213.3" y="221.2" text-anchor="end">1.0</text>
<text x="213.3" y="111.0" text-anchor="end">1.1</text>
<text x="249.5" y="1285" text-anchor="middle">0</text>
<text x="524.9" y="1285" text-anchor="middle">1000</text>
<text x="800.3" y="1285" text-anchor="middle">2000</text>
<text x="1075.7" y="1285" text-anchor="middle">3000</text>
<text x="1351.1" y="1285" text-anchor="middle">4000</text>
<text x="1626.5" y="1285" text-anchor="middle">5000</text>
<text x="805.7" y="1378.6" font-size="77" textLength="166.6" lengthAdjust="spacingAndGlyphs">Time</text><text x="991.45" y="1378.6" font-size="77" textLength="78.1" lengthAdjust="spacingAndGlyphs">(s)</text><text transform="translate(87.1 808.55) rotate(-90)" font-size="78.5" textLength="194.5" lengthAdjust="spacingAndGlyphs">Strain</text><text transform="translate(87.1 594.35) rotate(-90)" font-size="78.5" textLength="107.4" lengthAdjust="spacingAndGlyphs">(%)</text>
<path d="M353.6 931.1H407.8M441 931.1H494.1" stroke="#e01010" stroke-width="1.5"/>
<rect x="412" y="918.8" width="24.6" height="24.6" fill="#ca0404"/>
<path d="M560 931.1H613.9M647.1 931.1H700.3" stroke="#ff0000" stroke-width="1.5"/>
<circle cx="630.35" cy="931.1" r="13.65" fill="#ff0000"/>
<text x="506.9" y="951.1" font-size="53" textLength="39.6" lengthAdjust="spacingAndGlyphs">&amp;</text>
<text x="711.8" y="951.1" font-size="53">20 °C</text>
<path d="M353.6 1000.3H407.8M441 1000.3H494.1" stroke="#000e80" stroke-width="1.5"/>
<rect x="412" y="988.0" width="24.6" height="24.6" fill="#000e80"/>
<path d="M560 1000.3H613.9M647.1 1000.3H700.3" stroke="#0000ff" stroke-width="1.5"/>
<circle cx="630.35" cy="1000.3" r="13.65" fill="#0000ff"/>
<text x="506.9" y="1020.3" font-size="53" textLength="39.6" lengthAdjust="spacingAndGlyphs">&amp;</text>
<text x="711.8" y="1020.3" font-size="53">35 °C</text>
<path d="M353.6 1069.5H407.8M441 1069.5H494.1" stroke="#026202" stroke-width="1.5"/>
<rect x="412" y="1057.2" width="24.6" height="24.6" fill="#026202"/>
<path d="M560 1069.5H613.9M647.1 1069.5H700.3" stroke="#00ff00" stroke-width="1.5"/>
<circle cx="630.35" cy="1069.5" r="13.65" fill="#00ff00"/>
<text x="506.9" y="1089.5" font-size="53" textLength="39.6" lengthAdjust="spacingAndGlyphs">&amp;</text>
<text x="711.8" y="1089.5" font-size="53">50 °C</text>
<text x="381.7" y="1159.5" font-size="53">Base</text>
<text x="507.8" y="1159.5" font-size="53" textLength="39.6" lengthAdjust="spacingAndGlyphs">&amp;</text>
<text x="560.3" y="1159.5" font-size="53" textLength="212.8" lengthAdjust="spacingAndGlyphs">Modified</text>
</g>
</svg>
</body></html>
